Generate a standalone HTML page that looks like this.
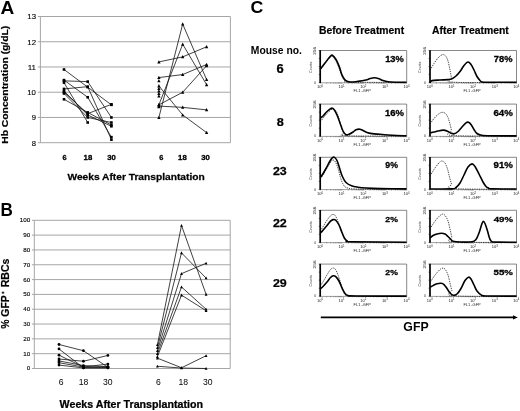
<!DOCTYPE html>
<html><head><meta charset="utf-8"><style>
html,body{margin:0;padding:0;background:#fff;overflow:hidden;width:520px;height:411px;}
svg{display:block;filter:grayscale(1);}
text{font-family:"Liberation Sans",sans-serif;}
</style></head><body>
<svg width="520" height="411" viewBox="0 0 520 411">
<rect width="520" height="411" fill="#fff"/>
<text transform="translate(0.62,13.70) scale(1.042,1)" font-size="18.33" font-weight="bold" fill="#000">A</text>
<line x1="37.8" y1="142.70" x2="230.4" y2="142.70" stroke="#a6a6a6" stroke-width="1"/>
<line x1="37.8" y1="117.46" x2="230.4" y2="117.46" stroke="#a6a6a6" stroke-width="1"/>
<line x1="37.8" y1="92.22" x2="230.4" y2="92.22" stroke="#a6a6a6" stroke-width="1"/>
<line x1="37.8" y1="66.98" x2="230.4" y2="66.98" stroke="#a6a6a6" stroke-width="1"/>
<line x1="37.8" y1="41.74" x2="230.4" y2="41.74" stroke="#a6a6a6" stroke-width="1"/>
<line x1="37.8" y1="16.50" x2="230.4" y2="16.50" stroke="#a6a6a6" stroke-width="1"/>
<line x1="40.4" y1="16.5" x2="40.4" y2="142.7" stroke="#a6a6a6" stroke-width="1"/>
<line x1="230.4" y1="16.5" x2="230.4" y2="142.7" stroke="#a6a6a6" stroke-width="1"/>
<text transform="translate(31.71,145.56) scale(0.989,1)" font-size="7.75" font-weight="normal" fill="#000" stroke="#000" stroke-width="0.12" stroke-linejoin="round">8</text>
<text transform="translate(31.74,120.32) scale(0.988,1)" font-size="7.75" font-weight="normal" fill="#000" stroke="#000" stroke-width="0.12" stroke-linejoin="round">9</text>
<text transform="translate(27.28,95.08) scale(1.006,1)" font-size="7.75" font-weight="normal" fill="#000" stroke="#000" stroke-width="0.12" stroke-linejoin="round">10</text>
<text transform="translate(27.71,69.92) scale(1.005,1)" font-size="7.97" font-weight="normal" fill="#000" stroke="#000" stroke-width="0.12" stroke-linejoin="round">11</text>
<text transform="translate(27.26,44.68) scale(1.006,1)" font-size="7.86" font-weight="normal" fill="#000" stroke="#000" stroke-width="0.12" stroke-linejoin="round">12</text>
<text transform="translate(27.32,19.36) scale(1.006,1)" font-size="7.75" font-weight="normal" fill="#000" stroke="#000" stroke-width="0.12" stroke-linejoin="round">13</text>
<text transform="translate(8.20,143.80) rotate(-90) scale(1.060,1)" font-size="9.75" font-weight="bold" fill="#000" stroke="#000" stroke-width="0.2" stroke-linejoin="round">Hb Concentration (g/dL)</text>
<text transform="translate(62.53,160.07) scale(0.974,1)" font-size="7.63" font-weight="bold" fill="#000" stroke="#000" stroke-width="0.3" stroke-linejoin="round">6</text>
<text transform="translate(83.57,160.07) scale(1.017,1)" font-size="7.63" font-weight="bold" fill="#000" stroke="#000" stroke-width="0.3" stroke-linejoin="round">18</text>
<text transform="translate(107.17,160.05) scale(1.018,1)" font-size="7.61" font-weight="bold" fill="#000" stroke="#000" stroke-width="0.3" stroke-linejoin="round">30</text>
<text transform="translate(159.23,160.07) scale(0.974,1)" font-size="7.63" font-weight="bold" fill="#000" stroke="#000" stroke-width="0.3" stroke-linejoin="round">6</text>
<text transform="translate(178.07,160.07) scale(1.017,1)" font-size="7.63" font-weight="bold" fill="#000" stroke="#000" stroke-width="0.3" stroke-linejoin="round">18</text>
<text transform="translate(201.27,160.05) scale(1.018,1)" font-size="7.61" font-weight="bold" fill="#000" stroke="#000" stroke-width="0.3" stroke-linejoin="round">30</text>
<text transform="translate(67.50,180.40) scale(1.038,1)" font-size="9.85" font-weight="bold" fill="#000" stroke="#000" stroke-width="0.25" stroke-linejoin="round">Weeks After Transplantation</text>
<polyline points="64.00,69.50 87.70,87.17 111.40,104.84" fill="none" stroke="#111" stroke-width="0.8"/>
<polyline points="64.00,80.86 87.70,81.62 111.40,117.46" fill="none" stroke="#111" stroke-width="0.8"/>
<polyline points="64.00,88.94 87.70,86.67 111.40,139.67" fill="none" stroke="#111" stroke-width="0.8"/>
<polyline points="64.00,80.10 87.70,97.27 111.40,137.15" fill="none" stroke="#111" stroke-width="0.8"/>
<polyline points="64.00,82.63 87.70,122.51" fill="none" stroke="#111" stroke-width="0.8"/>
<polyline points="64.00,92.22 87.70,113.67 111.40,104.34" fill="none" stroke="#111" stroke-width="0.8"/>
<polyline points="64.00,93.48 87.70,117.46 111.40,122.51" fill="none" stroke="#111" stroke-width="0.8"/>
<polyline points="64.00,99.29 87.70,112.41 111.40,125.03" fill="none" stroke="#111" stroke-width="0.8"/>
<polyline points="64.00,90.96 87.70,114.94 111.40,126.29" fill="none" stroke="#111" stroke-width="0.8"/>
<polyline points="158.90,61.93 182.70,56.88 206.60,46.79" fill="none" stroke="#111" stroke-width="0.8"/>
<polyline points="158.90,77.58 182.70,74.55 206.60,64.46" fill="none" stroke="#111" stroke-width="0.8"/>
<polyline points="158.90,117.46 182.70,24.07 206.60,79.60" fill="none" stroke="#111" stroke-width="0.8"/>
<polyline points="158.90,104.84 182.70,44.26 206.60,84.65" fill="none" stroke="#111" stroke-width="0.8"/>
<polyline points="158.90,85.91 182.70,114.94 206.60,132.60" fill="none" stroke="#111" stroke-width="0.8"/>
<polyline points="158.90,104.84 182.70,92.22 206.60,65.72" fill="none" stroke="#111" stroke-width="0.8"/>
<polyline points="158.90,106.10 182.70,107.36 206.60,109.89" fill="none" stroke="#111" stroke-width="0.8"/>
<rect x="62.70" y="68.20" width="2.6" height="2.6" fill="#000"/>
<rect x="86.40" y="85.87" width="2.6" height="2.6" fill="#000"/>
<rect x="110.10" y="103.54" width="2.6" height="2.6" fill="#000"/>
<rect x="62.70" y="79.56" width="2.6" height="2.6" fill="#000"/>
<rect x="86.40" y="80.32" width="2.6" height="2.6" fill="#000"/>
<rect x="110.10" y="116.16" width="2.6" height="2.6" fill="#000"/>
<rect x="62.70" y="87.64" width="2.6" height="2.6" fill="#000"/>
<rect x="86.40" y="85.37" width="2.6" height="2.6" fill="#000"/>
<rect x="110.10" y="138.37" width="2.6" height="2.6" fill="#000"/>
<rect x="62.70" y="78.80" width="2.6" height="2.6" fill="#000"/>
<rect x="86.40" y="95.97" width="2.6" height="2.6" fill="#000"/>
<rect x="110.10" y="135.85" width="2.6" height="2.6" fill="#000"/>
<rect x="62.70" y="81.33" width="2.6" height="2.6" fill="#000"/>
<rect x="86.40" y="121.21" width="2.6" height="2.6" fill="#000"/>
<rect x="62.70" y="90.92" width="2.6" height="2.6" fill="#000"/>
<rect x="86.40" y="112.37" width="2.6" height="2.6" fill="#000"/>
<rect x="110.10" y="103.04" width="2.6" height="2.6" fill="#000"/>
<rect x="62.70" y="92.18" width="2.6" height="2.6" fill="#000"/>
<rect x="86.40" y="116.16" width="2.6" height="2.6" fill="#000"/>
<rect x="110.10" y="121.21" width="2.6" height="2.6" fill="#000"/>
<rect x="62.70" y="97.99" width="2.6" height="2.6" fill="#000"/>
<rect x="86.40" y="111.11" width="2.6" height="2.6" fill="#000"/>
<rect x="110.10" y="123.73" width="2.6" height="2.6" fill="#000"/>
<rect x="62.70" y="89.66" width="2.6" height="2.6" fill="#000"/>
<rect x="86.40" y="113.64" width="2.6" height="2.6" fill="#000"/>
<rect x="110.10" y="124.99" width="2.6" height="2.6" fill="#000"/>
<polygon points="158.90,60.15 157.25,63.42 160.55,63.42" fill="#000"/>
<polygon points="182.70,55.10 181.05,58.37 184.35,58.37" fill="#000"/>
<polygon points="206.60,45.00 204.95,48.27 208.25,48.27" fill="#000"/>
<polygon points="158.90,75.80 157.25,79.07 160.55,79.07" fill="#000"/>
<polygon points="182.70,72.77 181.05,76.04 184.35,76.04" fill="#000"/>
<polygon points="206.60,62.67 204.95,65.94 208.25,65.94" fill="#000"/>
<polygon points="158.90,115.67 157.25,118.94 160.55,118.94" fill="#000"/>
<polygon points="182.70,22.29 181.05,25.56 184.35,25.56" fill="#000"/>
<polygon points="206.60,77.81 204.95,81.08 208.25,81.08" fill="#000"/>
<polygon points="158.90,103.05 157.25,106.32 160.55,106.32" fill="#000"/>
<polygon points="182.70,42.48 181.05,45.75 184.35,45.75" fill="#000"/>
<polygon points="206.60,82.86 204.95,86.13 208.25,86.13" fill="#000"/>
<polygon points="158.90,84.12 157.25,87.39 160.55,87.39" fill="#000"/>
<polygon points="182.70,113.15 181.05,116.42 184.35,116.42" fill="#000"/>
<polygon points="206.60,130.82 204.95,134.09 208.25,134.09" fill="#000"/>
<polygon points="158.90,103.05 157.25,106.32 160.55,106.32" fill="#000"/>
<polygon points="182.70,90.44 181.05,93.70 184.35,93.70" fill="#000"/>
<polygon points="206.60,63.93 204.95,67.20 208.25,67.20" fill="#000"/>
<polygon points="158.90,104.32 157.25,107.59 160.55,107.59" fill="#000"/>
<polygon points="182.70,105.58 181.05,108.85 184.35,108.85" fill="#000"/>
<polygon points="206.60,108.10 204.95,111.37 208.25,111.37" fill="#000"/>
<polygon points="158.90,79.08 157.25,82.35 160.55,82.35" fill="#000"/>
<polygon points="158.90,86.65 157.25,89.92 160.55,89.92" fill="#000"/>
<polygon points="158.90,89.17 157.25,92.44 160.55,92.44" fill="#000"/>
<polygon points="158.90,91.70 157.25,94.97 160.55,94.97" fill="#000"/>
<polygon points="158.90,94.22 157.25,97.49 160.55,97.49" fill="#000"/>
<polygon points="158.90,105.07 157.25,108.34 160.55,108.34" fill="#000"/>
<text transform="translate(0.45,215.60) scale(0.945,1)" font-size="18.04" font-weight="bold" fill="#000">B</text>
<line x1="31.9" y1="368.50" x2="230.2" y2="368.50" stroke="#a6a6a6" stroke-width="1"/>
<line x1="31.9" y1="353.68" x2="230.2" y2="353.68" stroke="#a6a6a6" stroke-width="1"/>
<line x1="31.9" y1="338.86" x2="230.2" y2="338.86" stroke="#a6a6a6" stroke-width="1"/>
<line x1="31.9" y1="324.04" x2="230.2" y2="324.04" stroke="#a6a6a6" stroke-width="1"/>
<line x1="31.9" y1="309.22" x2="230.2" y2="309.22" stroke="#a6a6a6" stroke-width="1"/>
<line x1="31.9" y1="294.40" x2="230.2" y2="294.40" stroke="#a6a6a6" stroke-width="1"/>
<line x1="31.9" y1="279.58" x2="230.2" y2="279.58" stroke="#a6a6a6" stroke-width="1"/>
<line x1="31.9" y1="264.76" x2="230.2" y2="264.76" stroke="#a6a6a6" stroke-width="1"/>
<line x1="31.9" y1="249.94" x2="230.2" y2="249.94" stroke="#a6a6a6" stroke-width="1"/>
<line x1="31.9" y1="235.12" x2="230.2" y2="235.12" stroke="#a6a6a6" stroke-width="1"/>
<line x1="31.9" y1="220.30" x2="230.2" y2="220.30" stroke="#a6a6a6" stroke-width="1"/>
<line x1="34.3" y1="220.3" x2="34.3" y2="368.5" stroke="#a6a6a6" stroke-width="1"/>
<line x1="230.2" y1="220.3" x2="230.2" y2="368.5" stroke="#a6a6a6" stroke-width="1"/>
<text transform="translate(26.87,370.43) scale(1.088,1)" font-size="5.63" font-weight="normal" fill="#000" stroke="#000" stroke-width="0.12" stroke-linejoin="round">0</text>
<text transform="translate(23.33,355.61) scale(1.112,1)" font-size="5.63" font-weight="normal" fill="#000" stroke="#000" stroke-width="0.12" stroke-linejoin="round">10</text>
<text transform="translate(23.33,340.79) scale(1.112,1)" font-size="5.63" font-weight="normal" fill="#000" stroke="#000" stroke-width="0.12" stroke-linejoin="round">20</text>
<text transform="translate(23.33,325.97) scale(1.113,1)" font-size="5.63" font-weight="normal" fill="#000" stroke="#000" stroke-width="0.12" stroke-linejoin="round">30</text>
<text transform="translate(23.33,311.15) scale(1.113,1)" font-size="5.63" font-weight="normal" fill="#000" stroke="#000" stroke-width="0.12" stroke-linejoin="round">40</text>
<text transform="translate(23.33,296.33) scale(1.113,1)" font-size="5.63" font-weight="normal" fill="#000" stroke="#000" stroke-width="0.12" stroke-linejoin="round">50</text>
<text transform="translate(23.33,281.51) scale(1.112,1)" font-size="5.63" font-weight="normal" fill="#000" stroke="#000" stroke-width="0.12" stroke-linejoin="round">60</text>
<text transform="translate(23.33,266.69) scale(1.112,1)" font-size="5.63" font-weight="normal" fill="#000" stroke="#000" stroke-width="0.12" stroke-linejoin="round">70</text>
<text transform="translate(23.33,251.87) scale(1.112,1)" font-size="5.63" font-weight="normal" fill="#000" stroke="#000" stroke-width="0.12" stroke-linejoin="round">80</text>
<text transform="translate(23.33,237.05) scale(1.112,1)" font-size="5.63" font-weight="normal" fill="#000" stroke="#000" stroke-width="0.12" stroke-linejoin="round">90</text>
<text transform="translate(19.78,222.23) scale(1.119,1)" font-size="5.63" font-weight="normal" fill="#000" stroke="#000" stroke-width="0.12" stroke-linejoin="round">100</text>
<text transform="translate(8.80,328.86) rotate(-90) scale(1.010,1)" font-size="10.33" font-weight="bold" fill="#000" stroke="#000" stroke-width="0.2" stroke-linejoin="round">% GFP</text>
<text transform="translate(8.80,287.31) rotate(-90) scale(1.022,1)" font-size="10.33" font-weight="bold" fill="#000" stroke="#000" stroke-width="0.2" stroke-linejoin="round">RBCs</text>
<path d="M1.7,292.7 H4.3 M3.0,291.4 V294.0" stroke="#000" stroke-width="0.9"/>
<text transform="translate(58.68,384.61) scale(1.000,1)" font-size="8.62" font-weight="normal" fill="#000">6</text>
<text transform="translate(78.77,384.61) scale(1.000,1)" font-size="8.62" font-weight="normal" fill="#000">18</text>
<text transform="translate(102.91,384.61) scale(1.000,1)" font-size="8.62" font-weight="normal" fill="#000">30</text>
<text transform="translate(155.88,384.61) scale(1.000,1)" font-size="8.62" font-weight="normal" fill="#000">6</text>
<text transform="translate(178.47,384.61) scale(1.000,1)" font-size="8.62" font-weight="normal" fill="#000">18</text>
<text transform="translate(202.91,384.61) scale(1.000,1)" font-size="8.62" font-weight="normal" fill="#000">30</text>
<text transform="translate(59.60,407.70) scale(1.037,1)" font-size="10.29" font-weight="bold" fill="#000" stroke="#000" stroke-width="0.25" stroke-linejoin="round">Weeks After Transplantation</text>
<polyline points="59.00,344.49 83.40,350.72 107.90,367.31" fill="none" stroke="#111" stroke-width="0.8"/>
<polyline points="59.00,348.94 83.40,367.76 107.90,367.76" fill="none" stroke="#111" stroke-width="0.8"/>
<polyline points="59.00,355.16 83.40,367.02 107.90,364.05" fill="none" stroke="#111" stroke-width="0.8"/>
<polyline points="59.00,359.02 83.40,361.24 107.90,355.46" fill="none" stroke="#111" stroke-width="0.8"/>
<polyline points="59.00,360.94 83.40,365.54 107.90,366.72" fill="none" stroke="#111" stroke-width="0.8"/>
<polyline points="59.00,362.72 83.40,367.02 107.90,367.02" fill="none" stroke="#111" stroke-width="0.8"/>
<polyline points="59.00,365.09 83.40,367.91 107.90,367.91" fill="none" stroke="#111" stroke-width="0.8"/>
<polyline points="157.40,344.79 181.50,225.49 206.10,294.40" fill="none" stroke="#111" stroke-width="0.8"/>
<polyline points="157.40,347.75 181.50,252.90 206.10,278.10" fill="none" stroke="#111" stroke-width="0.8"/>
<polyline points="157.40,350.72 181.50,273.65 206.10,263.28" fill="none" stroke="#111" stroke-width="0.8"/>
<polyline points="157.40,353.68 181.50,286.99 206.10,309.22" fill="none" stroke="#111" stroke-width="0.8"/>
<polyline points="157.40,356.64 181.50,295.14 206.10,310.70" fill="none" stroke="#111" stroke-width="0.8"/>
<polyline points="157.40,358.13 181.50,367.76 206.10,355.75" fill="none" stroke="#111" stroke-width="0.8"/>
<polyline points="157.40,366.28 181.50,368.06 206.10,368.50" fill="none" stroke="#111" stroke-width="0.8"/>
<circle cx="59.00" cy="344.49" r="1.4" fill="#000"/>
<circle cx="83.40" cy="350.72" r="1.4" fill="#000"/>
<circle cx="107.90" cy="367.31" r="1.4" fill="#000"/>
<circle cx="59.00" cy="348.94" r="1.4" fill="#000"/>
<circle cx="83.40" cy="367.76" r="1.4" fill="#000"/>
<circle cx="107.90" cy="367.76" r="1.4" fill="#000"/>
<circle cx="59.00" cy="355.16" r="1.4" fill="#000"/>
<circle cx="83.40" cy="367.02" r="1.4" fill="#000"/>
<circle cx="107.90" cy="364.05" r="1.4" fill="#000"/>
<circle cx="59.00" cy="359.02" r="1.4" fill="#000"/>
<circle cx="83.40" cy="361.24" r="1.4" fill="#000"/>
<circle cx="107.90" cy="355.46" r="1.4" fill="#000"/>
<circle cx="59.00" cy="360.94" r="1.4" fill="#000"/>
<circle cx="83.40" cy="365.54" r="1.4" fill="#000"/>
<circle cx="107.90" cy="366.72" r="1.4" fill="#000"/>
<circle cx="59.00" cy="362.72" r="1.4" fill="#000"/>
<circle cx="83.40" cy="367.02" r="1.4" fill="#000"/>
<circle cx="107.90" cy="367.02" r="1.4" fill="#000"/>
<circle cx="59.00" cy="365.09" r="1.4" fill="#000"/>
<circle cx="83.40" cy="367.91" r="1.4" fill="#000"/>
<circle cx="107.90" cy="367.91" r="1.4" fill="#000"/>
<polygon points="157.40,343.23 156.00,346.05 158.80,346.05" fill="#000"/>
<polygon points="181.50,223.93 180.10,226.75 182.90,226.75" fill="#000"/>
<polygon points="206.10,292.84 204.70,295.66 207.50,295.66" fill="#000"/>
<polygon points="157.40,346.19 156.00,349.01 158.80,349.01" fill="#000"/>
<polygon points="181.50,251.34 180.10,254.16 182.90,254.16" fill="#000"/>
<polygon points="206.10,276.54 204.70,279.36 207.50,279.36" fill="#000"/>
<polygon points="157.40,349.16 156.00,351.98 158.80,351.98" fill="#000"/>
<polygon points="181.50,272.09 180.10,274.91 182.90,274.91" fill="#000"/>
<polygon points="206.10,261.72 204.70,264.54 207.50,264.54" fill="#000"/>
<polygon points="157.40,352.12 156.00,354.94 158.80,354.94" fill="#000"/>
<polygon points="181.50,285.43 180.10,288.25 182.90,288.25" fill="#000"/>
<polygon points="206.10,307.66 204.70,310.48 207.50,310.48" fill="#000"/>
<polygon points="157.40,355.08 156.00,357.90 158.80,357.90" fill="#000"/>
<polygon points="181.50,293.58 180.10,296.40 182.90,296.40" fill="#000"/>
<polygon points="206.10,309.14 204.70,311.96 207.50,311.96" fill="#000"/>
<polygon points="157.40,356.57 156.00,359.39 158.80,359.39" fill="#000"/>
<polygon points="181.50,366.20 180.10,369.02 182.90,369.02" fill="#000"/>
<polygon points="206.10,354.19 204.70,357.01 207.50,357.01" fill="#000"/>
<polygon points="157.40,364.72 156.00,367.54 158.80,367.54" fill="#000"/>
<polygon points="181.50,366.50 180.10,369.32 182.90,369.32" fill="#000"/>
<polygon points="206.10,366.94 204.70,369.76 207.50,369.76" fill="#000"/>
<text transform="translate(250.59,13.33) scale(1.027,1)" font-size="17.24" font-weight="bold" fill="#000">C</text>
<text transform="translate(318.90,34.40) scale(0.976,1)" font-size="10.62" font-weight="bold" fill="#000" stroke="#000" stroke-width="0.2" stroke-linejoin="round">Before Treatment</text>
<text transform="translate(432.04,34.40) scale(0.979,1)" font-size="10.62" font-weight="bold" fill="#000" stroke="#000" stroke-width="0.2" stroke-linejoin="round">After Treatment</text>
<text transform="translate(250.80,53.70) scale(1.017,1)" font-size="10.18" font-weight="bold" fill="#000">Mouse no.</text>
<text transform="translate(276.54,73.36) scale(1.085,1)" font-size="11.94" font-weight="bold" fill="#000" stroke="#000" stroke-width="0.25" stroke-linejoin="round">6</text>
<text transform="translate(276.71,126.16) scale(1.129,1)" font-size="11.24" font-weight="bold" fill="#000" stroke="#000" stroke-width="0.25" stroke-linejoin="round">8</text>
<text transform="translate(272.89,174.74) scale(1.126,1)" font-size="11.06" font-weight="bold" fill="#000" stroke="#000" stroke-width="0.25" stroke-linejoin="round">23</text>
<text transform="translate(272.89,226.97) scale(1.084,1)" font-size="11.54" font-weight="bold" fill="#000" stroke="#000" stroke-width="0.25" stroke-linejoin="round">22</text>
<text transform="translate(272.89,286.56) scale(1.094,1)" font-size="11.38" font-weight="bold" fill="#000" stroke="#000" stroke-width="0.25" stroke-linejoin="round">29</text>
<path d="M320.2,50.50 H406.70 V82.60" fill="none" stroke="#555" stroke-width="0.7"/>
<line x1="320.2" y1="82.80" x2="406.70" y2="82.80" stroke="#777" stroke-width="0.7"/>
<line x1="320.20" y1="82.60" x2="320.20" y2="83.70" stroke="#444" stroke-width="0.45"/>
<line x1="326.71" y1="82.60" x2="326.71" y2="83.70" stroke="#444" stroke-width="0.45"/>
<line x1="330.52" y1="82.60" x2="330.52" y2="83.70" stroke="#444" stroke-width="0.45"/>
<line x1="333.22" y1="82.60" x2="333.22" y2="83.70" stroke="#444" stroke-width="0.45"/>
<line x1="335.32" y1="82.60" x2="335.32" y2="83.70" stroke="#444" stroke-width="0.45"/>
<line x1="337.03" y1="82.60" x2="337.03" y2="83.70" stroke="#444" stroke-width="0.45"/>
<line x1="338.48" y1="82.60" x2="338.48" y2="83.70" stroke="#444" stroke-width="0.45"/>
<line x1="339.73" y1="82.60" x2="339.73" y2="83.70" stroke="#444" stroke-width="0.45"/>
<line x1="340.84" y1="82.60" x2="340.84" y2="83.70" stroke="#444" stroke-width="0.45"/>
<line x1="341.82" y1="82.60" x2="341.82" y2="83.70" stroke="#444" stroke-width="0.45"/>
<line x1="348.33" y1="82.60" x2="348.33" y2="83.70" stroke="#444" stroke-width="0.45"/>
<line x1="352.14" y1="82.60" x2="352.14" y2="83.70" stroke="#444" stroke-width="0.45"/>
<line x1="354.84" y1="82.60" x2="354.84" y2="83.70" stroke="#444" stroke-width="0.45"/>
<line x1="356.94" y1="82.60" x2="356.94" y2="83.70" stroke="#444" stroke-width="0.45"/>
<line x1="358.65" y1="82.60" x2="358.65" y2="83.70" stroke="#444" stroke-width="0.45"/>
<line x1="360.10" y1="82.60" x2="360.10" y2="83.70" stroke="#444" stroke-width="0.45"/>
<line x1="361.35" y1="82.60" x2="361.35" y2="83.70" stroke="#444" stroke-width="0.45"/>
<line x1="362.46" y1="82.60" x2="362.46" y2="83.70" stroke="#444" stroke-width="0.45"/>
<line x1="363.45" y1="82.60" x2="363.45" y2="83.70" stroke="#444" stroke-width="0.45"/>
<line x1="369.96" y1="82.60" x2="369.96" y2="83.70" stroke="#444" stroke-width="0.45"/>
<line x1="373.77" y1="82.60" x2="373.77" y2="83.70" stroke="#444" stroke-width="0.45"/>
<line x1="376.47" y1="82.60" x2="376.47" y2="83.70" stroke="#444" stroke-width="0.45"/>
<line x1="378.57" y1="82.60" x2="378.57" y2="83.70" stroke="#444" stroke-width="0.45"/>
<line x1="380.28" y1="82.60" x2="380.28" y2="83.70" stroke="#444" stroke-width="0.45"/>
<line x1="381.73" y1="82.60" x2="381.73" y2="83.70" stroke="#444" stroke-width="0.45"/>
<line x1="382.98" y1="82.60" x2="382.98" y2="83.70" stroke="#444" stroke-width="0.45"/>
<line x1="384.09" y1="82.60" x2="384.09" y2="83.70" stroke="#444" stroke-width="0.45"/>
<line x1="385.07" y1="82.60" x2="385.07" y2="83.70" stroke="#444" stroke-width="0.45"/>
<line x1="391.58" y1="82.60" x2="391.58" y2="83.70" stroke="#444" stroke-width="0.45"/>
<line x1="395.39" y1="82.60" x2="395.39" y2="83.70" stroke="#444" stroke-width="0.45"/>
<line x1="398.09" y1="82.60" x2="398.09" y2="83.70" stroke="#444" stroke-width="0.45"/>
<line x1="400.19" y1="82.60" x2="400.19" y2="83.70" stroke="#444" stroke-width="0.45"/>
<line x1="401.90" y1="82.60" x2="401.90" y2="83.70" stroke="#444" stroke-width="0.45"/>
<line x1="403.35" y1="82.60" x2="403.35" y2="83.70" stroke="#444" stroke-width="0.45"/>
<line x1="404.60" y1="82.60" x2="404.60" y2="83.70" stroke="#444" stroke-width="0.45"/>
<line x1="405.71" y1="82.60" x2="405.71" y2="83.70" stroke="#444" stroke-width="0.45"/>
<line x1="406.70" y1="82.60" x2="406.70" y2="83.70" stroke="#444" stroke-width="0.45"/>
<line x1="318.60" y1="50.50" x2="320.20" y2="50.50" stroke="#333" stroke-width="0.5"/>
<line x1="318.60" y1="58.52" x2="320.20" y2="58.52" stroke="#333" stroke-width="0.5"/>
<line x1="318.60" y1="66.55" x2="320.20" y2="66.55" stroke="#333" stroke-width="0.5"/>
<line x1="318.60" y1="74.58" x2="320.20" y2="74.58" stroke="#333" stroke-width="0.5"/>
<line x1="318.60" y1="82.60" x2="320.20" y2="82.60" stroke="#333" stroke-width="0.5"/>
<text transform="translate(315.80,54.80) rotate(-90)" font-size="4.4" fill="#222" textLength="8" lengthAdjust="spacingAndGlyphs">256</text>
<text transform="translate(311.60,72.90) rotate(-90)" font-size="3.6" fill="#333" textLength="11.3" lengthAdjust="spacingAndGlyphs">Counts</text>
<text x="314.20" y="83.80" font-size="3.4" fill="#222">0</text>
<text x="317.00" y="88.40" font-size="4" fill="#222">10<tspan font-size="2.8" dy="-1.7">0</tspan></text>
<text x="338.62" y="88.40" font-size="4" fill="#222">10<tspan font-size="2.8" dy="-1.7">1</tspan></text>
<text x="360.25" y="88.40" font-size="4" fill="#222">10<tspan font-size="2.8" dy="-1.7">2</tspan></text>
<text x="381.88" y="88.40" font-size="4" fill="#222">10<tspan font-size="2.8" dy="-1.7">3</tspan></text>
<text x="403.50" y="88.40" font-size="4" fill="#222">10<tspan font-size="2.8" dy="-1.7">4</tspan></text>
<text x="353.60" y="92.40" font-size="4" fill="#222" textLength="17.3" lengthAdjust="spacingAndGlyphs">FL1 -GFP</text>
<path d="M320.20,70.50 C321.00,69.33 323.37,65.67 325.00,63.50 C326.63,61.33 328.77,58.67 330.00,57.50 C331.23,56.33 331.40,55.92 332.40,56.50 C333.40,57.08 334.90,59.08 336.00,61.00 C337.10,62.92 338.00,65.42 339.00,68.00 C340.00,70.58 341.00,74.33 342.00,76.50 C343.00,78.67 343.67,80.05 345.00,81.00 C346.33,81.95 339.75,81.97 350.00,82.20 C360.25,82.43 397.08,82.37 406.50,82.40" fill="none" stroke="#333" stroke-width="0.9" stroke-dasharray="1.3,1.0"/>
<path d="M320.20,69.20 C320.58,68.72 321.67,67.37 322.50,66.30 C323.33,65.23 323.97,64.38 325.20,62.80 C326.43,61.22 328.70,58.07 329.90,56.80 C331.10,55.53 331.33,54.67 332.40,55.20 C333.47,55.73 335.12,57.97 336.30,60.00 C337.48,62.03 338.50,64.78 339.50,67.40 C340.50,70.02 341.30,73.55 342.30,75.70 C343.30,77.85 344.18,79.25 345.50,80.30 C346.82,81.35 348.12,81.82 350.20,82.00 C352.28,82.18 355.37,81.73 358.00,81.40 C360.63,81.07 364.00,80.47 366.00,80.00 C368.00,79.53 368.58,78.97 370.00,78.60 C371.42,78.23 373.00,77.77 374.50,77.80 C376.00,77.83 377.58,78.33 379.00,78.80 C380.42,79.27 381.50,80.10 383.00,80.60 C384.50,81.10 385.83,81.53 388.00,81.80 C390.17,82.07 392.92,82.12 396.00,82.20 C399.08,82.28 404.75,82.28 406.50,82.30" fill="none" stroke="#000" stroke-width="1.6" stroke-linejoin="round"/>
<line x1="320.20" y1="50.20" x2="320.20" y2="83.00" stroke="#000" stroke-width="1.7"/>
<path d="M430.0,50.50 H516.50 V82.60" fill="none" stroke="#555" stroke-width="0.7"/>
<line x1="430.0" y1="82.80" x2="516.50" y2="82.80" stroke="#777" stroke-width="0.7"/>
<line x1="430.00" y1="82.60" x2="430.00" y2="83.70" stroke="#444" stroke-width="0.45"/>
<line x1="436.51" y1="82.60" x2="436.51" y2="83.70" stroke="#444" stroke-width="0.45"/>
<line x1="440.32" y1="82.60" x2="440.32" y2="83.70" stroke="#444" stroke-width="0.45"/>
<line x1="443.02" y1="82.60" x2="443.02" y2="83.70" stroke="#444" stroke-width="0.45"/>
<line x1="445.12" y1="82.60" x2="445.12" y2="83.70" stroke="#444" stroke-width="0.45"/>
<line x1="446.83" y1="82.60" x2="446.83" y2="83.70" stroke="#444" stroke-width="0.45"/>
<line x1="448.28" y1="82.60" x2="448.28" y2="83.70" stroke="#444" stroke-width="0.45"/>
<line x1="449.53" y1="82.60" x2="449.53" y2="83.70" stroke="#444" stroke-width="0.45"/>
<line x1="450.64" y1="82.60" x2="450.64" y2="83.70" stroke="#444" stroke-width="0.45"/>
<line x1="451.62" y1="82.60" x2="451.62" y2="83.70" stroke="#444" stroke-width="0.45"/>
<line x1="458.13" y1="82.60" x2="458.13" y2="83.70" stroke="#444" stroke-width="0.45"/>
<line x1="461.94" y1="82.60" x2="461.94" y2="83.70" stroke="#444" stroke-width="0.45"/>
<line x1="464.64" y1="82.60" x2="464.64" y2="83.70" stroke="#444" stroke-width="0.45"/>
<line x1="466.74" y1="82.60" x2="466.74" y2="83.70" stroke="#444" stroke-width="0.45"/>
<line x1="468.45" y1="82.60" x2="468.45" y2="83.70" stroke="#444" stroke-width="0.45"/>
<line x1="469.90" y1="82.60" x2="469.90" y2="83.70" stroke="#444" stroke-width="0.45"/>
<line x1="471.15" y1="82.60" x2="471.15" y2="83.70" stroke="#444" stroke-width="0.45"/>
<line x1="472.26" y1="82.60" x2="472.26" y2="83.70" stroke="#444" stroke-width="0.45"/>
<line x1="473.25" y1="82.60" x2="473.25" y2="83.70" stroke="#444" stroke-width="0.45"/>
<line x1="479.76" y1="82.60" x2="479.76" y2="83.70" stroke="#444" stroke-width="0.45"/>
<line x1="483.57" y1="82.60" x2="483.57" y2="83.70" stroke="#444" stroke-width="0.45"/>
<line x1="486.27" y1="82.60" x2="486.27" y2="83.70" stroke="#444" stroke-width="0.45"/>
<line x1="488.37" y1="82.60" x2="488.37" y2="83.70" stroke="#444" stroke-width="0.45"/>
<line x1="490.08" y1="82.60" x2="490.08" y2="83.70" stroke="#444" stroke-width="0.45"/>
<line x1="491.53" y1="82.60" x2="491.53" y2="83.70" stroke="#444" stroke-width="0.45"/>
<line x1="492.78" y1="82.60" x2="492.78" y2="83.70" stroke="#444" stroke-width="0.45"/>
<line x1="493.89" y1="82.60" x2="493.89" y2="83.70" stroke="#444" stroke-width="0.45"/>
<line x1="494.88" y1="82.60" x2="494.88" y2="83.70" stroke="#444" stroke-width="0.45"/>
<line x1="501.38" y1="82.60" x2="501.38" y2="83.70" stroke="#444" stroke-width="0.45"/>
<line x1="505.19" y1="82.60" x2="505.19" y2="83.70" stroke="#444" stroke-width="0.45"/>
<line x1="507.89" y1="82.60" x2="507.89" y2="83.70" stroke="#444" stroke-width="0.45"/>
<line x1="509.99" y1="82.60" x2="509.99" y2="83.70" stroke="#444" stroke-width="0.45"/>
<line x1="511.70" y1="82.60" x2="511.70" y2="83.70" stroke="#444" stroke-width="0.45"/>
<line x1="513.15" y1="82.60" x2="513.15" y2="83.70" stroke="#444" stroke-width="0.45"/>
<line x1="514.40" y1="82.60" x2="514.40" y2="83.70" stroke="#444" stroke-width="0.45"/>
<line x1="515.51" y1="82.60" x2="515.51" y2="83.70" stroke="#444" stroke-width="0.45"/>
<line x1="516.50" y1="82.60" x2="516.50" y2="83.70" stroke="#444" stroke-width="0.45"/>
<line x1="428.40" y1="50.50" x2="430.00" y2="50.50" stroke="#333" stroke-width="0.5"/>
<line x1="428.40" y1="58.52" x2="430.00" y2="58.52" stroke="#333" stroke-width="0.5"/>
<line x1="428.40" y1="66.55" x2="430.00" y2="66.55" stroke="#333" stroke-width="0.5"/>
<line x1="428.40" y1="74.58" x2="430.00" y2="74.58" stroke="#333" stroke-width="0.5"/>
<line x1="428.40" y1="82.60" x2="430.00" y2="82.60" stroke="#333" stroke-width="0.5"/>
<text transform="translate(425.60,54.80) rotate(-90)" font-size="4.4" fill="#222" textLength="8" lengthAdjust="spacingAndGlyphs">256</text>
<text transform="translate(421.40,72.90) rotate(-90)" font-size="3.6" fill="#333" textLength="11.3" lengthAdjust="spacingAndGlyphs">Counts</text>
<text x="424.00" y="83.80" font-size="3.4" fill="#222">0</text>
<text x="426.80" y="88.40" font-size="4" fill="#222">10<tspan font-size="2.8" dy="-1.7">0</tspan></text>
<text x="448.43" y="88.40" font-size="4" fill="#222">10<tspan font-size="2.8" dy="-1.7">1</tspan></text>
<text x="470.05" y="88.40" font-size="4" fill="#222">10<tspan font-size="2.8" dy="-1.7">2</tspan></text>
<text x="491.68" y="88.40" font-size="4" fill="#222">10<tspan font-size="2.8" dy="-1.7">3</tspan></text>
<text x="513.30" y="88.40" font-size="4" fill="#222">10<tspan font-size="2.8" dy="-1.7">4</tspan></text>
<text x="463.40" y="92.40" font-size="4" fill="#222" textLength="17.3" lengthAdjust="spacingAndGlyphs">FL1 -GFP</text>
<path d="M430.20,70.00 C430.83,68.92 432.70,65.50 434.00,63.50 C435.30,61.50 436.83,59.37 438.00,58.00 C439.17,56.63 440.08,55.87 441.00,55.30 C441.92,54.73 442.67,54.40 443.50,54.60 C444.33,54.80 445.25,55.43 446.00,56.50 C446.75,57.57 447.33,58.75 448.00,61.00 C448.67,63.25 449.42,67.17 450.00,70.00 C450.58,72.83 451.00,75.97 451.50,78.00 C452.00,80.03 442.17,81.47 453.00,82.20 C463.83,82.93 505.92,82.37 516.50,82.40" fill="none" stroke="#333" stroke-width="0.9" stroke-dasharray="1.3,1.0"/>
<path d="M430.20,82.30 C430.50,82.02 430.37,80.98 432.00,80.60 C433.63,80.22 437.33,80.17 440.00,80.00 C442.67,79.83 446.00,79.80 448.00,79.60 C450.00,79.40 450.67,79.40 452.00,78.80 C453.33,78.20 454.67,77.22 456.00,76.00 C457.33,74.78 458.67,73.25 460.00,71.50 C461.33,69.75 462.67,67.08 464.00,65.50 C465.33,63.92 466.83,62.17 468.00,62.00 C469.17,61.83 470.00,63.17 471.00,64.50 C472.00,65.83 473.00,68.00 474.00,70.00 C475.00,72.00 476.00,74.75 477.00,76.50 C478.00,78.25 479.17,79.58 480.00,80.50 C480.83,81.42 480.33,81.70 482.00,82.00 C483.67,82.30 484.25,82.25 490.00,82.30 C495.75,82.35 512.08,82.30 516.50,82.30" fill="none" stroke="#000" stroke-width="1.6" stroke-linejoin="round"/>
<line x1="430.00" y1="50.20" x2="430.00" y2="83.00" stroke="#000" stroke-width="1.7"/>
<path d="M320.2,104.10 H406.70 V136.20" fill="none" stroke="#555" stroke-width="0.7"/>
<line x1="320.2" y1="136.40" x2="406.70" y2="136.40" stroke="#777" stroke-width="0.7"/>
<line x1="320.20" y1="136.20" x2="320.20" y2="137.30" stroke="#444" stroke-width="0.45"/>
<line x1="326.71" y1="136.20" x2="326.71" y2="137.30" stroke="#444" stroke-width="0.45"/>
<line x1="330.52" y1="136.20" x2="330.52" y2="137.30" stroke="#444" stroke-width="0.45"/>
<line x1="333.22" y1="136.20" x2="333.22" y2="137.30" stroke="#444" stroke-width="0.45"/>
<line x1="335.32" y1="136.20" x2="335.32" y2="137.30" stroke="#444" stroke-width="0.45"/>
<line x1="337.03" y1="136.20" x2="337.03" y2="137.30" stroke="#444" stroke-width="0.45"/>
<line x1="338.48" y1="136.20" x2="338.48" y2="137.30" stroke="#444" stroke-width="0.45"/>
<line x1="339.73" y1="136.20" x2="339.73" y2="137.30" stroke="#444" stroke-width="0.45"/>
<line x1="340.84" y1="136.20" x2="340.84" y2="137.30" stroke="#444" stroke-width="0.45"/>
<line x1="341.82" y1="136.20" x2="341.82" y2="137.30" stroke="#444" stroke-width="0.45"/>
<line x1="348.33" y1="136.20" x2="348.33" y2="137.30" stroke="#444" stroke-width="0.45"/>
<line x1="352.14" y1="136.20" x2="352.14" y2="137.30" stroke="#444" stroke-width="0.45"/>
<line x1="354.84" y1="136.20" x2="354.84" y2="137.30" stroke="#444" stroke-width="0.45"/>
<line x1="356.94" y1="136.20" x2="356.94" y2="137.30" stroke="#444" stroke-width="0.45"/>
<line x1="358.65" y1="136.20" x2="358.65" y2="137.30" stroke="#444" stroke-width="0.45"/>
<line x1="360.10" y1="136.20" x2="360.10" y2="137.30" stroke="#444" stroke-width="0.45"/>
<line x1="361.35" y1="136.20" x2="361.35" y2="137.30" stroke="#444" stroke-width="0.45"/>
<line x1="362.46" y1="136.20" x2="362.46" y2="137.30" stroke="#444" stroke-width="0.45"/>
<line x1="363.45" y1="136.20" x2="363.45" y2="137.30" stroke="#444" stroke-width="0.45"/>
<line x1="369.96" y1="136.20" x2="369.96" y2="137.30" stroke="#444" stroke-width="0.45"/>
<line x1="373.77" y1="136.20" x2="373.77" y2="137.30" stroke="#444" stroke-width="0.45"/>
<line x1="376.47" y1="136.20" x2="376.47" y2="137.30" stroke="#444" stroke-width="0.45"/>
<line x1="378.57" y1="136.20" x2="378.57" y2="137.30" stroke="#444" stroke-width="0.45"/>
<line x1="380.28" y1="136.20" x2="380.28" y2="137.30" stroke="#444" stroke-width="0.45"/>
<line x1="381.73" y1="136.20" x2="381.73" y2="137.30" stroke="#444" stroke-width="0.45"/>
<line x1="382.98" y1="136.20" x2="382.98" y2="137.30" stroke="#444" stroke-width="0.45"/>
<line x1="384.09" y1="136.20" x2="384.09" y2="137.30" stroke="#444" stroke-width="0.45"/>
<line x1="385.07" y1="136.20" x2="385.07" y2="137.30" stroke="#444" stroke-width="0.45"/>
<line x1="391.58" y1="136.20" x2="391.58" y2="137.30" stroke="#444" stroke-width="0.45"/>
<line x1="395.39" y1="136.20" x2="395.39" y2="137.30" stroke="#444" stroke-width="0.45"/>
<line x1="398.09" y1="136.20" x2="398.09" y2="137.30" stroke="#444" stroke-width="0.45"/>
<line x1="400.19" y1="136.20" x2="400.19" y2="137.30" stroke="#444" stroke-width="0.45"/>
<line x1="401.90" y1="136.20" x2="401.90" y2="137.30" stroke="#444" stroke-width="0.45"/>
<line x1="403.35" y1="136.20" x2="403.35" y2="137.30" stroke="#444" stroke-width="0.45"/>
<line x1="404.60" y1="136.20" x2="404.60" y2="137.30" stroke="#444" stroke-width="0.45"/>
<line x1="405.71" y1="136.20" x2="405.71" y2="137.30" stroke="#444" stroke-width="0.45"/>
<line x1="406.70" y1="136.20" x2="406.70" y2="137.30" stroke="#444" stroke-width="0.45"/>
<line x1="318.60" y1="104.10" x2="320.20" y2="104.10" stroke="#333" stroke-width="0.5"/>
<line x1="318.60" y1="112.12" x2="320.20" y2="112.12" stroke="#333" stroke-width="0.5"/>
<line x1="318.60" y1="120.15" x2="320.20" y2="120.15" stroke="#333" stroke-width="0.5"/>
<line x1="318.60" y1="128.18" x2="320.20" y2="128.18" stroke="#333" stroke-width="0.5"/>
<line x1="318.60" y1="136.20" x2="320.20" y2="136.20" stroke="#333" stroke-width="0.5"/>
<text transform="translate(315.80,108.40) rotate(-90)" font-size="4.4" fill="#222" textLength="8" lengthAdjust="spacingAndGlyphs">256</text>
<text transform="translate(311.60,126.50) rotate(-90)" font-size="3.6" fill="#333" textLength="11.3" lengthAdjust="spacingAndGlyphs">Counts</text>
<text x="314.20" y="137.40" font-size="3.4" fill="#222">0</text>
<text x="317.00" y="142.00" font-size="4" fill="#222">10<tspan font-size="2.8" dy="-1.7">0</tspan></text>
<text x="338.62" y="142.00" font-size="4" fill="#222">10<tspan font-size="2.8" dy="-1.7">1</tspan></text>
<text x="360.25" y="142.00" font-size="4" fill="#222">10<tspan font-size="2.8" dy="-1.7">2</tspan></text>
<text x="381.88" y="142.00" font-size="4" fill="#222">10<tspan font-size="2.8" dy="-1.7">3</tspan></text>
<text x="403.50" y="142.00" font-size="4" fill="#222">10<tspan font-size="2.8" dy="-1.7">4</tspan></text>
<text x="353.60" y="146.00" font-size="4" fill="#222" textLength="17.3" lengthAdjust="spacingAndGlyphs">FL1 -GFP</text>
<path d="M320.20,122.00 C320.83,121.17 322.70,118.58 324.00,117.00 C325.30,115.42 326.58,113.83 328.00,112.50 C329.42,111.17 331.17,109.25 332.50,109.00 C333.83,108.75 335.00,109.67 336.00,111.00 C337.00,112.33 337.67,114.50 338.50,117.00 C339.33,119.50 340.17,123.33 341.00,126.00 C341.83,128.67 342.67,131.37 343.50,133.00 C344.33,134.63 335.50,135.30 346.00,135.80 C356.50,136.30 396.42,135.97 406.50,136.00" fill="none" stroke="#333" stroke-width="0.9" stroke-dasharray="1.3,1.0"/>
<path d="M320.20,118.30 C320.67,117.92 321.87,117.13 323.00,116.00 C324.13,114.87 325.60,112.80 327.00,111.50 C328.40,110.20 330.23,108.53 331.40,108.20 C332.57,107.87 333.07,108.37 334.00,109.50 C334.93,110.63 336.00,112.75 337.00,115.00 C338.00,117.25 339.00,120.33 340.00,123.00 C341.00,125.67 342.00,129.05 343.00,131.00 C344.00,132.95 345.00,134.15 346.00,134.70 C347.00,135.25 347.83,134.75 349.00,134.30 C350.17,133.85 351.83,132.75 353.00,132.00 C354.17,131.25 354.87,130.27 356.00,129.80 C357.13,129.33 358.63,129.08 359.80,129.20 C360.97,129.32 361.80,129.95 363.00,130.50 C364.20,131.05 365.50,131.98 367.00,132.50 C368.50,133.02 369.83,133.30 372.00,133.60 C374.17,133.90 376.67,134.03 380.00,134.30 C383.33,134.57 387.58,134.95 392.00,135.20 C396.42,135.45 404.08,135.70 406.50,135.80" fill="none" stroke="#000" stroke-width="1.6" stroke-linejoin="round"/>
<line x1="320.20" y1="103.80" x2="320.20" y2="136.60" stroke="#000" stroke-width="1.7"/>
<path d="M430.0,104.10 H516.50 V136.20" fill="none" stroke="#555" stroke-width="0.7"/>
<line x1="430.0" y1="136.40" x2="516.50" y2="136.40" stroke="#777" stroke-width="0.7"/>
<line x1="430.00" y1="136.20" x2="430.00" y2="137.30" stroke="#444" stroke-width="0.45"/>
<line x1="436.51" y1="136.20" x2="436.51" y2="137.30" stroke="#444" stroke-width="0.45"/>
<line x1="440.32" y1="136.20" x2="440.32" y2="137.30" stroke="#444" stroke-width="0.45"/>
<line x1="443.02" y1="136.20" x2="443.02" y2="137.30" stroke="#444" stroke-width="0.45"/>
<line x1="445.12" y1="136.20" x2="445.12" y2="137.30" stroke="#444" stroke-width="0.45"/>
<line x1="446.83" y1="136.20" x2="446.83" y2="137.30" stroke="#444" stroke-width="0.45"/>
<line x1="448.28" y1="136.20" x2="448.28" y2="137.30" stroke="#444" stroke-width="0.45"/>
<line x1="449.53" y1="136.20" x2="449.53" y2="137.30" stroke="#444" stroke-width="0.45"/>
<line x1="450.64" y1="136.20" x2="450.64" y2="137.30" stroke="#444" stroke-width="0.45"/>
<line x1="451.62" y1="136.20" x2="451.62" y2="137.30" stroke="#444" stroke-width="0.45"/>
<line x1="458.13" y1="136.20" x2="458.13" y2="137.30" stroke="#444" stroke-width="0.45"/>
<line x1="461.94" y1="136.20" x2="461.94" y2="137.30" stroke="#444" stroke-width="0.45"/>
<line x1="464.64" y1="136.20" x2="464.64" y2="137.30" stroke="#444" stroke-width="0.45"/>
<line x1="466.74" y1="136.20" x2="466.74" y2="137.30" stroke="#444" stroke-width="0.45"/>
<line x1="468.45" y1="136.20" x2="468.45" y2="137.30" stroke="#444" stroke-width="0.45"/>
<line x1="469.90" y1="136.20" x2="469.90" y2="137.30" stroke="#444" stroke-width="0.45"/>
<line x1="471.15" y1="136.20" x2="471.15" y2="137.30" stroke="#444" stroke-width="0.45"/>
<line x1="472.26" y1="136.20" x2="472.26" y2="137.30" stroke="#444" stroke-width="0.45"/>
<line x1="473.25" y1="136.20" x2="473.25" y2="137.30" stroke="#444" stroke-width="0.45"/>
<line x1="479.76" y1="136.20" x2="479.76" y2="137.30" stroke="#444" stroke-width="0.45"/>
<line x1="483.57" y1="136.20" x2="483.57" y2="137.30" stroke="#444" stroke-width="0.45"/>
<line x1="486.27" y1="136.20" x2="486.27" y2="137.30" stroke="#444" stroke-width="0.45"/>
<line x1="488.37" y1="136.20" x2="488.37" y2="137.30" stroke="#444" stroke-width="0.45"/>
<line x1="490.08" y1="136.20" x2="490.08" y2="137.30" stroke="#444" stroke-width="0.45"/>
<line x1="491.53" y1="136.20" x2="491.53" y2="137.30" stroke="#444" stroke-width="0.45"/>
<line x1="492.78" y1="136.20" x2="492.78" y2="137.30" stroke="#444" stroke-width="0.45"/>
<line x1="493.89" y1="136.20" x2="493.89" y2="137.30" stroke="#444" stroke-width="0.45"/>
<line x1="494.88" y1="136.20" x2="494.88" y2="137.30" stroke="#444" stroke-width="0.45"/>
<line x1="501.38" y1="136.20" x2="501.38" y2="137.30" stroke="#444" stroke-width="0.45"/>
<line x1="505.19" y1="136.20" x2="505.19" y2="137.30" stroke="#444" stroke-width="0.45"/>
<line x1="507.89" y1="136.20" x2="507.89" y2="137.30" stroke="#444" stroke-width="0.45"/>
<line x1="509.99" y1="136.20" x2="509.99" y2="137.30" stroke="#444" stroke-width="0.45"/>
<line x1="511.70" y1="136.20" x2="511.70" y2="137.30" stroke="#444" stroke-width="0.45"/>
<line x1="513.15" y1="136.20" x2="513.15" y2="137.30" stroke="#444" stroke-width="0.45"/>
<line x1="514.40" y1="136.20" x2="514.40" y2="137.30" stroke="#444" stroke-width="0.45"/>
<line x1="515.51" y1="136.20" x2="515.51" y2="137.30" stroke="#444" stroke-width="0.45"/>
<line x1="516.50" y1="136.20" x2="516.50" y2="137.30" stroke="#444" stroke-width="0.45"/>
<line x1="428.40" y1="104.10" x2="430.00" y2="104.10" stroke="#333" stroke-width="0.5"/>
<line x1="428.40" y1="112.12" x2="430.00" y2="112.12" stroke="#333" stroke-width="0.5"/>
<line x1="428.40" y1="120.15" x2="430.00" y2="120.15" stroke="#333" stroke-width="0.5"/>
<line x1="428.40" y1="128.18" x2="430.00" y2="128.18" stroke="#333" stroke-width="0.5"/>
<line x1="428.40" y1="136.20" x2="430.00" y2="136.20" stroke="#333" stroke-width="0.5"/>
<text transform="translate(425.60,108.40) rotate(-90)" font-size="4.4" fill="#222" textLength="8" lengthAdjust="spacingAndGlyphs">256</text>
<text transform="translate(421.40,126.50) rotate(-90)" font-size="3.6" fill="#333" textLength="11.3" lengthAdjust="spacingAndGlyphs">Counts</text>
<text x="424.00" y="137.40" font-size="3.4" fill="#222">0</text>
<text x="426.80" y="142.00" font-size="4" fill="#222">10<tspan font-size="2.8" dy="-1.7">0</tspan></text>
<text x="448.43" y="142.00" font-size="4" fill="#222">10<tspan font-size="2.8" dy="-1.7">1</tspan></text>
<text x="470.05" y="142.00" font-size="4" fill="#222">10<tspan font-size="2.8" dy="-1.7">2</tspan></text>
<text x="491.68" y="142.00" font-size="4" fill="#222">10<tspan font-size="2.8" dy="-1.7">3</tspan></text>
<text x="513.30" y="142.00" font-size="4" fill="#222">10<tspan font-size="2.8" dy="-1.7">4</tspan></text>
<text x="463.40" y="146.00" font-size="4" fill="#222" textLength="17.3" lengthAdjust="spacingAndGlyphs">FL1 -GFP</text>
<path d="M430.20,123.70 C430.83,122.83 432.70,120.03 434.00,118.50 C435.30,116.97 436.83,115.48 438.00,114.50 C439.17,113.52 440.12,112.95 441.00,112.60 C441.88,112.25 442.47,112.17 443.30,112.40 C444.13,112.63 445.22,113.15 446.00,114.00 C446.78,114.85 447.33,115.83 448.00,117.50 C448.67,119.17 449.42,121.83 450.00,124.00 C450.58,126.17 451.08,128.58 451.50,130.50 C451.92,132.42 441.67,134.58 452.50,135.50 C463.33,136.42 505.83,135.92 516.50,136.00" fill="none" stroke="#333" stroke-width="0.9" stroke-dasharray="1.3,1.0"/>
<path d="M430.20,132.90 C430.83,132.75 432.70,132.32 434.00,132.00 C435.30,131.68 436.45,131.32 438.00,131.00 C439.55,130.68 441.63,130.02 443.30,130.10 C444.97,130.18 446.72,130.98 448.00,131.50 C449.28,132.02 449.97,132.82 451.00,133.20 C452.03,133.58 453.03,134.08 454.20,133.80 C455.37,133.52 456.70,132.63 458.00,131.50 C459.30,130.37 460.67,128.45 462.00,127.00 C463.33,125.55 464.92,123.58 466.00,122.80 C467.08,122.02 467.67,122.02 468.50,122.30 C469.33,122.58 470.08,123.30 471.00,124.50 C471.92,125.70 473.00,128.00 474.00,129.50 C475.00,131.00 475.73,132.53 477.00,133.50 C478.27,134.47 479.43,134.92 481.60,135.30 C483.77,135.68 484.18,135.70 490.00,135.80 C495.82,135.90 512.08,135.88 516.50,135.90" fill="none" stroke="#000" stroke-width="1.6" stroke-linejoin="round"/>
<line x1="430.00" y1="103.80" x2="430.00" y2="136.60" stroke="#000" stroke-width="1.7"/>
<path d="M320.2,157.30 H406.70 V189.40" fill="none" stroke="#555" stroke-width="0.7"/>
<line x1="320.2" y1="189.60" x2="406.70" y2="189.60" stroke="#777" stroke-width="0.7"/>
<line x1="320.20" y1="189.40" x2="320.20" y2="190.50" stroke="#444" stroke-width="0.45"/>
<line x1="326.71" y1="189.40" x2="326.71" y2="190.50" stroke="#444" stroke-width="0.45"/>
<line x1="330.52" y1="189.40" x2="330.52" y2="190.50" stroke="#444" stroke-width="0.45"/>
<line x1="333.22" y1="189.40" x2="333.22" y2="190.50" stroke="#444" stroke-width="0.45"/>
<line x1="335.32" y1="189.40" x2="335.32" y2="190.50" stroke="#444" stroke-width="0.45"/>
<line x1="337.03" y1="189.40" x2="337.03" y2="190.50" stroke="#444" stroke-width="0.45"/>
<line x1="338.48" y1="189.40" x2="338.48" y2="190.50" stroke="#444" stroke-width="0.45"/>
<line x1="339.73" y1="189.40" x2="339.73" y2="190.50" stroke="#444" stroke-width="0.45"/>
<line x1="340.84" y1="189.40" x2="340.84" y2="190.50" stroke="#444" stroke-width="0.45"/>
<line x1="341.82" y1="189.40" x2="341.82" y2="190.50" stroke="#444" stroke-width="0.45"/>
<line x1="348.33" y1="189.40" x2="348.33" y2="190.50" stroke="#444" stroke-width="0.45"/>
<line x1="352.14" y1="189.40" x2="352.14" y2="190.50" stroke="#444" stroke-width="0.45"/>
<line x1="354.84" y1="189.40" x2="354.84" y2="190.50" stroke="#444" stroke-width="0.45"/>
<line x1="356.94" y1="189.40" x2="356.94" y2="190.50" stroke="#444" stroke-width="0.45"/>
<line x1="358.65" y1="189.40" x2="358.65" y2="190.50" stroke="#444" stroke-width="0.45"/>
<line x1="360.10" y1="189.40" x2="360.10" y2="190.50" stroke="#444" stroke-width="0.45"/>
<line x1="361.35" y1="189.40" x2="361.35" y2="190.50" stroke="#444" stroke-width="0.45"/>
<line x1="362.46" y1="189.40" x2="362.46" y2="190.50" stroke="#444" stroke-width="0.45"/>
<line x1="363.45" y1="189.40" x2="363.45" y2="190.50" stroke="#444" stroke-width="0.45"/>
<line x1="369.96" y1="189.40" x2="369.96" y2="190.50" stroke="#444" stroke-width="0.45"/>
<line x1="373.77" y1="189.40" x2="373.77" y2="190.50" stroke="#444" stroke-width="0.45"/>
<line x1="376.47" y1="189.40" x2="376.47" y2="190.50" stroke="#444" stroke-width="0.45"/>
<line x1="378.57" y1="189.40" x2="378.57" y2="190.50" stroke="#444" stroke-width="0.45"/>
<line x1="380.28" y1="189.40" x2="380.28" y2="190.50" stroke="#444" stroke-width="0.45"/>
<line x1="381.73" y1="189.40" x2="381.73" y2="190.50" stroke="#444" stroke-width="0.45"/>
<line x1="382.98" y1="189.40" x2="382.98" y2="190.50" stroke="#444" stroke-width="0.45"/>
<line x1="384.09" y1="189.40" x2="384.09" y2="190.50" stroke="#444" stroke-width="0.45"/>
<line x1="385.07" y1="189.40" x2="385.07" y2="190.50" stroke="#444" stroke-width="0.45"/>
<line x1="391.58" y1="189.40" x2="391.58" y2="190.50" stroke="#444" stroke-width="0.45"/>
<line x1="395.39" y1="189.40" x2="395.39" y2="190.50" stroke="#444" stroke-width="0.45"/>
<line x1="398.09" y1="189.40" x2="398.09" y2="190.50" stroke="#444" stroke-width="0.45"/>
<line x1="400.19" y1="189.40" x2="400.19" y2="190.50" stroke="#444" stroke-width="0.45"/>
<line x1="401.90" y1="189.40" x2="401.90" y2="190.50" stroke="#444" stroke-width="0.45"/>
<line x1="403.35" y1="189.40" x2="403.35" y2="190.50" stroke="#444" stroke-width="0.45"/>
<line x1="404.60" y1="189.40" x2="404.60" y2="190.50" stroke="#444" stroke-width="0.45"/>
<line x1="405.71" y1="189.40" x2="405.71" y2="190.50" stroke="#444" stroke-width="0.45"/>
<line x1="406.70" y1="189.40" x2="406.70" y2="190.50" stroke="#444" stroke-width="0.45"/>
<line x1="318.60" y1="157.30" x2="320.20" y2="157.30" stroke="#333" stroke-width="0.5"/>
<line x1="318.60" y1="165.33" x2="320.20" y2="165.33" stroke="#333" stroke-width="0.5"/>
<line x1="318.60" y1="173.35" x2="320.20" y2="173.35" stroke="#333" stroke-width="0.5"/>
<line x1="318.60" y1="181.38" x2="320.20" y2="181.38" stroke="#333" stroke-width="0.5"/>
<line x1="318.60" y1="189.40" x2="320.20" y2="189.40" stroke="#333" stroke-width="0.5"/>
<text transform="translate(315.80,161.60) rotate(-90)" font-size="4.4" fill="#222" textLength="8" lengthAdjust="spacingAndGlyphs">256</text>
<text transform="translate(311.60,179.70) rotate(-90)" font-size="3.6" fill="#333" textLength="11.3" lengthAdjust="spacingAndGlyphs">Counts</text>
<text x="314.20" y="190.60" font-size="3.4" fill="#222">0</text>
<text x="317.00" y="195.20" font-size="4" fill="#222">10<tspan font-size="2.8" dy="-1.7">0</tspan></text>
<text x="338.62" y="195.20" font-size="4" fill="#222">10<tspan font-size="2.8" dy="-1.7">1</tspan></text>
<text x="360.25" y="195.20" font-size="4" fill="#222">10<tspan font-size="2.8" dy="-1.7">2</tspan></text>
<text x="381.88" y="195.20" font-size="4" fill="#222">10<tspan font-size="2.8" dy="-1.7">3</tspan></text>
<text x="403.50" y="195.20" font-size="4" fill="#222">10<tspan font-size="2.8" dy="-1.7">4</tspan></text>
<text x="353.60" y="199.20" font-size="4" fill="#222" textLength="17.3" lengthAdjust="spacingAndGlyphs">FL1 -GFP</text>
<path d="M320.20,179.00 C320.67,178.33 321.87,176.83 323.00,175.00 C324.13,173.17 325.67,170.25 327.00,168.00 C328.33,165.75 329.97,162.83 331.00,161.50 C332.03,160.17 332.45,159.92 333.20,160.00 C333.95,160.08 334.70,160.58 335.50,162.00 C336.30,163.42 337.17,165.92 338.00,168.50 C338.83,171.08 339.67,174.92 340.50,177.50 C341.33,180.08 341.92,182.28 343.00,184.00 C344.08,185.72 344.17,186.95 347.00,187.80 C349.83,188.65 350.08,188.87 360.00,189.10 C369.92,189.33 398.75,189.18 406.50,189.20" fill="none" stroke="#333" stroke-width="0.9" stroke-dasharray="1.3,1.0"/>
<path d="M320.20,177.60 C320.58,177.08 321.53,176.02 322.50,174.50 C323.47,172.98 324.75,170.75 326.00,168.50 C327.25,166.25 328.92,162.82 330.00,161.00 C331.08,159.18 331.75,158.22 332.50,157.60 C333.25,156.98 333.75,156.82 334.50,157.30 C335.25,157.78 336.17,158.72 337.00,160.50 C337.83,162.28 338.60,165.33 339.50,168.00 C340.40,170.67 341.32,174.08 342.40,176.50 C343.48,178.92 344.48,180.95 346.00,182.50 C347.52,184.05 349.50,185.02 351.50,185.80 C353.50,186.58 355.58,186.83 358.00,187.20 C360.42,187.57 362.33,187.77 366.00,188.00 C369.67,188.23 373.25,188.45 380.00,188.60 C386.75,188.75 402.08,188.85 406.50,188.90" fill="none" stroke="#000" stroke-width="1.6" stroke-linejoin="round"/>
<line x1="320.20" y1="157.00" x2="320.20" y2="189.80" stroke="#000" stroke-width="1.7"/>
<path d="M430.0,157.30 H516.50 V189.40" fill="none" stroke="#555" stroke-width="0.7"/>
<line x1="430.0" y1="189.60" x2="516.50" y2="189.60" stroke="#777" stroke-width="0.7"/>
<line x1="430.00" y1="189.40" x2="430.00" y2="190.50" stroke="#444" stroke-width="0.45"/>
<line x1="436.51" y1="189.40" x2="436.51" y2="190.50" stroke="#444" stroke-width="0.45"/>
<line x1="440.32" y1="189.40" x2="440.32" y2="190.50" stroke="#444" stroke-width="0.45"/>
<line x1="443.02" y1="189.40" x2="443.02" y2="190.50" stroke="#444" stroke-width="0.45"/>
<line x1="445.12" y1="189.40" x2="445.12" y2="190.50" stroke="#444" stroke-width="0.45"/>
<line x1="446.83" y1="189.40" x2="446.83" y2="190.50" stroke="#444" stroke-width="0.45"/>
<line x1="448.28" y1="189.40" x2="448.28" y2="190.50" stroke="#444" stroke-width="0.45"/>
<line x1="449.53" y1="189.40" x2="449.53" y2="190.50" stroke="#444" stroke-width="0.45"/>
<line x1="450.64" y1="189.40" x2="450.64" y2="190.50" stroke="#444" stroke-width="0.45"/>
<line x1="451.62" y1="189.40" x2="451.62" y2="190.50" stroke="#444" stroke-width="0.45"/>
<line x1="458.13" y1="189.40" x2="458.13" y2="190.50" stroke="#444" stroke-width="0.45"/>
<line x1="461.94" y1="189.40" x2="461.94" y2="190.50" stroke="#444" stroke-width="0.45"/>
<line x1="464.64" y1="189.40" x2="464.64" y2="190.50" stroke="#444" stroke-width="0.45"/>
<line x1="466.74" y1="189.40" x2="466.74" y2="190.50" stroke="#444" stroke-width="0.45"/>
<line x1="468.45" y1="189.40" x2="468.45" y2="190.50" stroke="#444" stroke-width="0.45"/>
<line x1="469.90" y1="189.40" x2="469.90" y2="190.50" stroke="#444" stroke-width="0.45"/>
<line x1="471.15" y1="189.40" x2="471.15" y2="190.50" stroke="#444" stroke-width="0.45"/>
<line x1="472.26" y1="189.40" x2="472.26" y2="190.50" stroke="#444" stroke-width="0.45"/>
<line x1="473.25" y1="189.40" x2="473.25" y2="190.50" stroke="#444" stroke-width="0.45"/>
<line x1="479.76" y1="189.40" x2="479.76" y2="190.50" stroke="#444" stroke-width="0.45"/>
<line x1="483.57" y1="189.40" x2="483.57" y2="190.50" stroke="#444" stroke-width="0.45"/>
<line x1="486.27" y1="189.40" x2="486.27" y2="190.50" stroke="#444" stroke-width="0.45"/>
<line x1="488.37" y1="189.40" x2="488.37" y2="190.50" stroke="#444" stroke-width="0.45"/>
<line x1="490.08" y1="189.40" x2="490.08" y2="190.50" stroke="#444" stroke-width="0.45"/>
<line x1="491.53" y1="189.40" x2="491.53" y2="190.50" stroke="#444" stroke-width="0.45"/>
<line x1="492.78" y1="189.40" x2="492.78" y2="190.50" stroke="#444" stroke-width="0.45"/>
<line x1="493.89" y1="189.40" x2="493.89" y2="190.50" stroke="#444" stroke-width="0.45"/>
<line x1="494.88" y1="189.40" x2="494.88" y2="190.50" stroke="#444" stroke-width="0.45"/>
<line x1="501.38" y1="189.40" x2="501.38" y2="190.50" stroke="#444" stroke-width="0.45"/>
<line x1="505.19" y1="189.40" x2="505.19" y2="190.50" stroke="#444" stroke-width="0.45"/>
<line x1="507.89" y1="189.40" x2="507.89" y2="190.50" stroke="#444" stroke-width="0.45"/>
<line x1="509.99" y1="189.40" x2="509.99" y2="190.50" stroke="#444" stroke-width="0.45"/>
<line x1="511.70" y1="189.40" x2="511.70" y2="190.50" stroke="#444" stroke-width="0.45"/>
<line x1="513.15" y1="189.40" x2="513.15" y2="190.50" stroke="#444" stroke-width="0.45"/>
<line x1="514.40" y1="189.40" x2="514.40" y2="190.50" stroke="#444" stroke-width="0.45"/>
<line x1="515.51" y1="189.40" x2="515.51" y2="190.50" stroke="#444" stroke-width="0.45"/>
<line x1="516.50" y1="189.40" x2="516.50" y2="190.50" stroke="#444" stroke-width="0.45"/>
<line x1="428.40" y1="157.30" x2="430.00" y2="157.30" stroke="#333" stroke-width="0.5"/>
<line x1="428.40" y1="165.33" x2="430.00" y2="165.33" stroke="#333" stroke-width="0.5"/>
<line x1="428.40" y1="173.35" x2="430.00" y2="173.35" stroke="#333" stroke-width="0.5"/>
<line x1="428.40" y1="181.38" x2="430.00" y2="181.38" stroke="#333" stroke-width="0.5"/>
<line x1="428.40" y1="189.40" x2="430.00" y2="189.40" stroke="#333" stroke-width="0.5"/>
<text transform="translate(425.60,161.60) rotate(-90)" font-size="4.4" fill="#222" textLength="8" lengthAdjust="spacingAndGlyphs">256</text>
<text transform="translate(421.40,179.70) rotate(-90)" font-size="3.6" fill="#333" textLength="11.3" lengthAdjust="spacingAndGlyphs">Counts</text>
<text x="424.00" y="190.60" font-size="3.4" fill="#222">0</text>
<text x="426.80" y="195.20" font-size="4" fill="#222">10<tspan font-size="2.8" dy="-1.7">0</tspan></text>
<text x="448.43" y="195.20" font-size="4" fill="#222">10<tspan font-size="2.8" dy="-1.7">1</tspan></text>
<text x="470.05" y="195.20" font-size="4" fill="#222">10<tspan font-size="2.8" dy="-1.7">2</tspan></text>
<text x="491.68" y="195.20" font-size="4" fill="#222">10<tspan font-size="2.8" dy="-1.7">3</tspan></text>
<text x="513.30" y="195.20" font-size="4" fill="#222">10<tspan font-size="2.8" dy="-1.7">4</tspan></text>
<text x="463.40" y="199.20" font-size="4" fill="#222" textLength="17.3" lengthAdjust="spacingAndGlyphs">FL1 -GFP</text>
<path d="M430.20,175.70 C430.83,174.67 432.70,171.45 434.00,169.50 C435.30,167.55 436.92,165.33 438.00,164.00 C439.08,162.67 439.77,161.98 440.50,161.50 C441.23,161.02 441.65,160.85 442.40,161.10 C443.15,161.35 444.15,161.68 445.00,163.00 C445.85,164.32 446.75,166.67 447.50,169.00 C448.25,171.33 448.83,174.50 449.50,177.00 C450.17,179.50 450.83,182.07 451.50,184.00 C452.17,185.93 442.67,187.73 453.50,188.60 C464.33,189.47 506.00,189.10 516.50,189.20" fill="none" stroke="#333" stroke-width="0.9" stroke-dasharray="1.3,1.0"/>
<path d="M430.20,189.00 C433.83,188.98 447.70,189.15 452.00,188.90 C456.30,188.65 454.67,188.48 456.00,187.50 C457.33,186.52 458.67,185.08 460.00,183.00 C461.33,180.92 462.67,177.67 464.00,175.00 C465.33,172.33 466.65,168.85 468.00,167.00 C469.35,165.15 470.93,163.98 472.10,163.90 C473.27,163.82 473.85,164.82 475.00,166.50 C476.15,168.18 477.67,171.42 479.00,174.00 C480.33,176.58 481.83,179.92 483.00,182.00 C484.17,184.08 485.17,185.53 486.00,186.50 C486.83,187.47 487.00,187.42 488.00,187.80 C489.00,188.18 487.25,188.60 492.00,188.80 C496.75,189.00 512.42,188.97 516.50,189.00" fill="none" stroke="#000" stroke-width="1.6" stroke-linejoin="round"/>
<line x1="430.00" y1="157.00" x2="430.00" y2="189.80" stroke="#000" stroke-width="1.7"/>
<path d="M320.2,210.30 H406.70 V242.40" fill="none" stroke="#555" stroke-width="0.7"/>
<line x1="320.2" y1="242.60" x2="406.70" y2="242.60" stroke="#777" stroke-width="0.7"/>
<line x1="320.20" y1="242.40" x2="320.20" y2="243.50" stroke="#444" stroke-width="0.45"/>
<line x1="326.71" y1="242.40" x2="326.71" y2="243.50" stroke="#444" stroke-width="0.45"/>
<line x1="330.52" y1="242.40" x2="330.52" y2="243.50" stroke="#444" stroke-width="0.45"/>
<line x1="333.22" y1="242.40" x2="333.22" y2="243.50" stroke="#444" stroke-width="0.45"/>
<line x1="335.32" y1="242.40" x2="335.32" y2="243.50" stroke="#444" stroke-width="0.45"/>
<line x1="337.03" y1="242.40" x2="337.03" y2="243.50" stroke="#444" stroke-width="0.45"/>
<line x1="338.48" y1="242.40" x2="338.48" y2="243.50" stroke="#444" stroke-width="0.45"/>
<line x1="339.73" y1="242.40" x2="339.73" y2="243.50" stroke="#444" stroke-width="0.45"/>
<line x1="340.84" y1="242.40" x2="340.84" y2="243.50" stroke="#444" stroke-width="0.45"/>
<line x1="341.82" y1="242.40" x2="341.82" y2="243.50" stroke="#444" stroke-width="0.45"/>
<line x1="348.33" y1="242.40" x2="348.33" y2="243.50" stroke="#444" stroke-width="0.45"/>
<line x1="352.14" y1="242.40" x2="352.14" y2="243.50" stroke="#444" stroke-width="0.45"/>
<line x1="354.84" y1="242.40" x2="354.84" y2="243.50" stroke="#444" stroke-width="0.45"/>
<line x1="356.94" y1="242.40" x2="356.94" y2="243.50" stroke="#444" stroke-width="0.45"/>
<line x1="358.65" y1="242.40" x2="358.65" y2="243.50" stroke="#444" stroke-width="0.45"/>
<line x1="360.10" y1="242.40" x2="360.10" y2="243.50" stroke="#444" stroke-width="0.45"/>
<line x1="361.35" y1="242.40" x2="361.35" y2="243.50" stroke="#444" stroke-width="0.45"/>
<line x1="362.46" y1="242.40" x2="362.46" y2="243.50" stroke="#444" stroke-width="0.45"/>
<line x1="363.45" y1="242.40" x2="363.45" y2="243.50" stroke="#444" stroke-width="0.45"/>
<line x1="369.96" y1="242.40" x2="369.96" y2="243.50" stroke="#444" stroke-width="0.45"/>
<line x1="373.77" y1="242.40" x2="373.77" y2="243.50" stroke="#444" stroke-width="0.45"/>
<line x1="376.47" y1="242.40" x2="376.47" y2="243.50" stroke="#444" stroke-width="0.45"/>
<line x1="378.57" y1="242.40" x2="378.57" y2="243.50" stroke="#444" stroke-width="0.45"/>
<line x1="380.28" y1="242.40" x2="380.28" y2="243.50" stroke="#444" stroke-width="0.45"/>
<line x1="381.73" y1="242.40" x2="381.73" y2="243.50" stroke="#444" stroke-width="0.45"/>
<line x1="382.98" y1="242.40" x2="382.98" y2="243.50" stroke="#444" stroke-width="0.45"/>
<line x1="384.09" y1="242.40" x2="384.09" y2="243.50" stroke="#444" stroke-width="0.45"/>
<line x1="385.07" y1="242.40" x2="385.07" y2="243.50" stroke="#444" stroke-width="0.45"/>
<line x1="391.58" y1="242.40" x2="391.58" y2="243.50" stroke="#444" stroke-width="0.45"/>
<line x1="395.39" y1="242.40" x2="395.39" y2="243.50" stroke="#444" stroke-width="0.45"/>
<line x1="398.09" y1="242.40" x2="398.09" y2="243.50" stroke="#444" stroke-width="0.45"/>
<line x1="400.19" y1="242.40" x2="400.19" y2="243.50" stroke="#444" stroke-width="0.45"/>
<line x1="401.90" y1="242.40" x2="401.90" y2="243.50" stroke="#444" stroke-width="0.45"/>
<line x1="403.35" y1="242.40" x2="403.35" y2="243.50" stroke="#444" stroke-width="0.45"/>
<line x1="404.60" y1="242.40" x2="404.60" y2="243.50" stroke="#444" stroke-width="0.45"/>
<line x1="405.71" y1="242.40" x2="405.71" y2="243.50" stroke="#444" stroke-width="0.45"/>
<line x1="406.70" y1="242.40" x2="406.70" y2="243.50" stroke="#444" stroke-width="0.45"/>
<line x1="318.60" y1="210.30" x2="320.20" y2="210.30" stroke="#333" stroke-width="0.5"/>
<line x1="318.60" y1="218.33" x2="320.20" y2="218.33" stroke="#333" stroke-width="0.5"/>
<line x1="318.60" y1="226.35" x2="320.20" y2="226.35" stroke="#333" stroke-width="0.5"/>
<line x1="318.60" y1="234.38" x2="320.20" y2="234.38" stroke="#333" stroke-width="0.5"/>
<line x1="318.60" y1="242.40" x2="320.20" y2="242.40" stroke="#333" stroke-width="0.5"/>
<text transform="translate(315.80,214.60) rotate(-90)" font-size="4.4" fill="#222" textLength="8" lengthAdjust="spacingAndGlyphs">256</text>
<text transform="translate(311.60,232.70) rotate(-90)" font-size="3.6" fill="#333" textLength="11.3" lengthAdjust="spacingAndGlyphs">Counts</text>
<text x="314.20" y="243.60" font-size="3.4" fill="#222">0</text>
<text x="317.00" y="248.20" font-size="4" fill="#222">10<tspan font-size="2.8" dy="-1.7">0</tspan></text>
<text x="338.62" y="248.20" font-size="4" fill="#222">10<tspan font-size="2.8" dy="-1.7">1</tspan></text>
<text x="360.25" y="248.20" font-size="4" fill="#222">10<tspan font-size="2.8" dy="-1.7">2</tspan></text>
<text x="381.88" y="248.20" font-size="4" fill="#222">10<tspan font-size="2.8" dy="-1.7">3</tspan></text>
<text x="403.50" y="248.20" font-size="4" fill="#222">10<tspan font-size="2.8" dy="-1.7">4</tspan></text>
<text x="353.60" y="252.20" font-size="4" fill="#222" textLength="17.3" lengthAdjust="spacingAndGlyphs">FL1 -GFP</text>
<path d="M320.20,231.00 C320.75,230.17 322.28,227.92 323.50,226.00 C324.72,224.08 326.25,221.28 327.50,219.50 C328.75,217.72 330.03,216.13 331.00,215.30 C331.97,214.47 332.55,214.38 333.30,214.50 C334.05,214.62 334.72,214.83 335.50,216.00 C336.28,217.17 337.08,219.17 338.00,221.50 C338.92,223.83 340.08,227.42 341.00,230.00 C341.92,232.58 342.67,235.17 343.50,237.00 C344.33,238.83 344.58,240.13 346.00,241.00 C347.42,241.87 341.92,241.97 352.00,242.20 C362.08,242.43 397.42,242.37 406.50,242.40" fill="none" stroke="#333" stroke-width="0.9" stroke-dasharray="1.3,1.0"/>
<path d="M320.20,233.30 C320.67,232.78 321.87,231.50 323.00,230.20 C324.13,228.90 325.75,227.00 327.00,225.50 C328.25,224.00 329.45,222.18 330.50,221.20 C331.55,220.22 332.38,219.72 333.30,219.60 C334.22,219.48 335.05,219.60 336.00,220.50 C336.95,221.40 338.00,223.00 339.00,225.00 C340.00,227.00 341.08,230.30 342.00,232.50 C342.92,234.70 343.67,236.82 344.50,238.20 C345.33,239.58 345.75,240.20 347.00,240.80 C348.25,241.40 342.08,241.57 352.00,241.80 C361.92,242.03 397.42,242.13 406.50,242.20" fill="none" stroke="#000" stroke-width="1.6" stroke-linejoin="round"/>
<line x1="320.20" y1="210.00" x2="320.20" y2="242.80" stroke="#000" stroke-width="1.7"/>
<path d="M430.0,210.30 H516.50 V242.40" fill="none" stroke="#555" stroke-width="0.7"/>
<line x1="430.0" y1="242.60" x2="516.50" y2="242.60" stroke="#777" stroke-width="0.7"/>
<line x1="430.00" y1="242.40" x2="430.00" y2="243.50" stroke="#444" stroke-width="0.45"/>
<line x1="436.51" y1="242.40" x2="436.51" y2="243.50" stroke="#444" stroke-width="0.45"/>
<line x1="440.32" y1="242.40" x2="440.32" y2="243.50" stroke="#444" stroke-width="0.45"/>
<line x1="443.02" y1="242.40" x2="443.02" y2="243.50" stroke="#444" stroke-width="0.45"/>
<line x1="445.12" y1="242.40" x2="445.12" y2="243.50" stroke="#444" stroke-width="0.45"/>
<line x1="446.83" y1="242.40" x2="446.83" y2="243.50" stroke="#444" stroke-width="0.45"/>
<line x1="448.28" y1="242.40" x2="448.28" y2="243.50" stroke="#444" stroke-width="0.45"/>
<line x1="449.53" y1="242.40" x2="449.53" y2="243.50" stroke="#444" stroke-width="0.45"/>
<line x1="450.64" y1="242.40" x2="450.64" y2="243.50" stroke="#444" stroke-width="0.45"/>
<line x1="451.62" y1="242.40" x2="451.62" y2="243.50" stroke="#444" stroke-width="0.45"/>
<line x1="458.13" y1="242.40" x2="458.13" y2="243.50" stroke="#444" stroke-width="0.45"/>
<line x1="461.94" y1="242.40" x2="461.94" y2="243.50" stroke="#444" stroke-width="0.45"/>
<line x1="464.64" y1="242.40" x2="464.64" y2="243.50" stroke="#444" stroke-width="0.45"/>
<line x1="466.74" y1="242.40" x2="466.74" y2="243.50" stroke="#444" stroke-width="0.45"/>
<line x1="468.45" y1="242.40" x2="468.45" y2="243.50" stroke="#444" stroke-width="0.45"/>
<line x1="469.90" y1="242.40" x2="469.90" y2="243.50" stroke="#444" stroke-width="0.45"/>
<line x1="471.15" y1="242.40" x2="471.15" y2="243.50" stroke="#444" stroke-width="0.45"/>
<line x1="472.26" y1="242.40" x2="472.26" y2="243.50" stroke="#444" stroke-width="0.45"/>
<line x1="473.25" y1="242.40" x2="473.25" y2="243.50" stroke="#444" stroke-width="0.45"/>
<line x1="479.76" y1="242.40" x2="479.76" y2="243.50" stroke="#444" stroke-width="0.45"/>
<line x1="483.57" y1="242.40" x2="483.57" y2="243.50" stroke="#444" stroke-width="0.45"/>
<line x1="486.27" y1="242.40" x2="486.27" y2="243.50" stroke="#444" stroke-width="0.45"/>
<line x1="488.37" y1="242.40" x2="488.37" y2="243.50" stroke="#444" stroke-width="0.45"/>
<line x1="490.08" y1="242.40" x2="490.08" y2="243.50" stroke="#444" stroke-width="0.45"/>
<line x1="491.53" y1="242.40" x2="491.53" y2="243.50" stroke="#444" stroke-width="0.45"/>
<line x1="492.78" y1="242.40" x2="492.78" y2="243.50" stroke="#444" stroke-width="0.45"/>
<line x1="493.89" y1="242.40" x2="493.89" y2="243.50" stroke="#444" stroke-width="0.45"/>
<line x1="494.88" y1="242.40" x2="494.88" y2="243.50" stroke="#444" stroke-width="0.45"/>
<line x1="501.38" y1="242.40" x2="501.38" y2="243.50" stroke="#444" stroke-width="0.45"/>
<line x1="505.19" y1="242.40" x2="505.19" y2="243.50" stroke="#444" stroke-width="0.45"/>
<line x1="507.89" y1="242.40" x2="507.89" y2="243.50" stroke="#444" stroke-width="0.45"/>
<line x1="509.99" y1="242.40" x2="509.99" y2="243.50" stroke="#444" stroke-width="0.45"/>
<line x1="511.70" y1="242.40" x2="511.70" y2="243.50" stroke="#444" stroke-width="0.45"/>
<line x1="513.15" y1="242.40" x2="513.15" y2="243.50" stroke="#444" stroke-width="0.45"/>
<line x1="514.40" y1="242.40" x2="514.40" y2="243.50" stroke="#444" stroke-width="0.45"/>
<line x1="515.51" y1="242.40" x2="515.51" y2="243.50" stroke="#444" stroke-width="0.45"/>
<line x1="516.50" y1="242.40" x2="516.50" y2="243.50" stroke="#444" stroke-width="0.45"/>
<line x1="428.40" y1="210.30" x2="430.00" y2="210.30" stroke="#333" stroke-width="0.5"/>
<line x1="428.40" y1="218.33" x2="430.00" y2="218.33" stroke="#333" stroke-width="0.5"/>
<line x1="428.40" y1="226.35" x2="430.00" y2="226.35" stroke="#333" stroke-width="0.5"/>
<line x1="428.40" y1="234.38" x2="430.00" y2="234.38" stroke="#333" stroke-width="0.5"/>
<line x1="428.40" y1="242.40" x2="430.00" y2="242.40" stroke="#333" stroke-width="0.5"/>
<text transform="translate(425.60,214.60) rotate(-90)" font-size="4.4" fill="#222" textLength="8" lengthAdjust="spacingAndGlyphs">256</text>
<text transform="translate(421.40,232.70) rotate(-90)" font-size="3.6" fill="#333" textLength="11.3" lengthAdjust="spacingAndGlyphs">Counts</text>
<text x="424.00" y="243.60" font-size="3.4" fill="#222">0</text>
<text x="426.80" y="248.20" font-size="4" fill="#222">10<tspan font-size="2.8" dy="-1.7">0</tspan></text>
<text x="448.43" y="248.20" font-size="4" fill="#222">10<tspan font-size="2.8" dy="-1.7">1</tspan></text>
<text x="470.05" y="248.20" font-size="4" fill="#222">10<tspan font-size="2.8" dy="-1.7">2</tspan></text>
<text x="491.68" y="248.20" font-size="4" fill="#222">10<tspan font-size="2.8" dy="-1.7">3</tspan></text>
<text x="513.30" y="248.20" font-size="4" fill="#222">10<tspan font-size="2.8" dy="-1.7">4</tspan></text>
<text x="463.40" y="252.20" font-size="4" fill="#222" textLength="17.3" lengthAdjust="spacingAndGlyphs">FL1 -GFP</text>
<path d="M430.20,228.70 C430.83,227.67 432.70,224.37 434.00,222.50 C435.30,220.63 436.83,218.78 438.00,217.50 C439.17,216.22 440.12,215.37 441.00,214.80 C441.88,214.23 442.55,213.90 443.30,214.10 C444.05,214.30 444.72,214.85 445.50,216.00 C446.28,217.15 447.25,218.83 448.00,221.00 C448.75,223.17 449.37,226.33 450.00,229.00 C450.63,231.67 451.22,234.87 451.80,237.00 C452.38,239.13 442.72,240.90 453.50,241.80 C464.28,242.70 506.00,242.30 516.50,242.40" fill="none" stroke="#333" stroke-width="0.9" stroke-dasharray="1.3,1.0"/>
<path d="M430.20,237.90 C430.67,237.50 431.87,236.15 433.00,235.50 C434.13,234.85 435.60,234.37 437.00,234.00 C438.40,233.63 440.07,233.30 441.40,233.30 C442.73,233.30 443.90,233.47 445.00,234.00 C446.10,234.53 447.00,235.58 448.00,236.50 C449.00,237.42 450.17,238.72 451.00,239.50 C451.83,240.28 451.50,240.78 453.00,241.20 C454.50,241.62 456.83,241.90 460.00,242.00 C463.17,242.10 469.33,242.22 472.00,241.80 C474.67,241.38 474.83,240.97 476.00,239.50 C477.17,238.03 478.08,235.42 479.00,233.00 C479.92,230.58 480.82,226.93 481.50,225.00 C482.18,223.07 482.52,221.65 483.10,221.40 C483.68,221.15 484.27,221.90 485.00,223.50 C485.73,225.10 486.75,228.58 487.50,231.00 C488.25,233.42 488.83,236.27 489.50,238.00 C490.17,239.73 490.42,240.72 491.50,241.40 C492.58,242.08 491.83,241.97 496.00,242.10 C500.17,242.23 513.08,242.18 516.50,242.20" fill="none" stroke="#000" stroke-width="1.6" stroke-linejoin="round"/>
<line x1="430.00" y1="210.00" x2="430.00" y2="242.80" stroke="#000" stroke-width="1.7"/>
<path d="M320.2,264.10 H406.70 V296.20" fill="none" stroke="#555" stroke-width="0.7"/>
<line x1="320.2" y1="296.40" x2="406.70" y2="296.40" stroke="#777" stroke-width="0.7"/>
<line x1="320.20" y1="296.20" x2="320.20" y2="297.30" stroke="#444" stroke-width="0.45"/>
<line x1="326.71" y1="296.20" x2="326.71" y2="297.30" stroke="#444" stroke-width="0.45"/>
<line x1="330.52" y1="296.20" x2="330.52" y2="297.30" stroke="#444" stroke-width="0.45"/>
<line x1="333.22" y1="296.20" x2="333.22" y2="297.30" stroke="#444" stroke-width="0.45"/>
<line x1="335.32" y1="296.20" x2="335.32" y2="297.30" stroke="#444" stroke-width="0.45"/>
<line x1="337.03" y1="296.20" x2="337.03" y2="297.30" stroke="#444" stroke-width="0.45"/>
<line x1="338.48" y1="296.20" x2="338.48" y2="297.30" stroke="#444" stroke-width="0.45"/>
<line x1="339.73" y1="296.20" x2="339.73" y2="297.30" stroke="#444" stroke-width="0.45"/>
<line x1="340.84" y1="296.20" x2="340.84" y2="297.30" stroke="#444" stroke-width="0.45"/>
<line x1="341.82" y1="296.20" x2="341.82" y2="297.30" stroke="#444" stroke-width="0.45"/>
<line x1="348.33" y1="296.20" x2="348.33" y2="297.30" stroke="#444" stroke-width="0.45"/>
<line x1="352.14" y1="296.20" x2="352.14" y2="297.30" stroke="#444" stroke-width="0.45"/>
<line x1="354.84" y1="296.20" x2="354.84" y2="297.30" stroke="#444" stroke-width="0.45"/>
<line x1="356.94" y1="296.20" x2="356.94" y2="297.30" stroke="#444" stroke-width="0.45"/>
<line x1="358.65" y1="296.20" x2="358.65" y2="297.30" stroke="#444" stroke-width="0.45"/>
<line x1="360.10" y1="296.20" x2="360.10" y2="297.30" stroke="#444" stroke-width="0.45"/>
<line x1="361.35" y1="296.20" x2="361.35" y2="297.30" stroke="#444" stroke-width="0.45"/>
<line x1="362.46" y1="296.20" x2="362.46" y2="297.30" stroke="#444" stroke-width="0.45"/>
<line x1="363.45" y1="296.20" x2="363.45" y2="297.30" stroke="#444" stroke-width="0.45"/>
<line x1="369.96" y1="296.20" x2="369.96" y2="297.30" stroke="#444" stroke-width="0.45"/>
<line x1="373.77" y1="296.20" x2="373.77" y2="297.30" stroke="#444" stroke-width="0.45"/>
<line x1="376.47" y1="296.20" x2="376.47" y2="297.30" stroke="#444" stroke-width="0.45"/>
<line x1="378.57" y1="296.20" x2="378.57" y2="297.30" stroke="#444" stroke-width="0.45"/>
<line x1="380.28" y1="296.20" x2="380.28" y2="297.30" stroke="#444" stroke-width="0.45"/>
<line x1="381.73" y1="296.20" x2="381.73" y2="297.30" stroke="#444" stroke-width="0.45"/>
<line x1="382.98" y1="296.20" x2="382.98" y2="297.30" stroke="#444" stroke-width="0.45"/>
<line x1="384.09" y1="296.20" x2="384.09" y2="297.30" stroke="#444" stroke-width="0.45"/>
<line x1="385.07" y1="296.20" x2="385.07" y2="297.30" stroke="#444" stroke-width="0.45"/>
<line x1="391.58" y1="296.20" x2="391.58" y2="297.30" stroke="#444" stroke-width="0.45"/>
<line x1="395.39" y1="296.20" x2="395.39" y2="297.30" stroke="#444" stroke-width="0.45"/>
<line x1="398.09" y1="296.20" x2="398.09" y2="297.30" stroke="#444" stroke-width="0.45"/>
<line x1="400.19" y1="296.20" x2="400.19" y2="297.30" stroke="#444" stroke-width="0.45"/>
<line x1="401.90" y1="296.20" x2="401.90" y2="297.30" stroke="#444" stroke-width="0.45"/>
<line x1="403.35" y1="296.20" x2="403.35" y2="297.30" stroke="#444" stroke-width="0.45"/>
<line x1="404.60" y1="296.20" x2="404.60" y2="297.30" stroke="#444" stroke-width="0.45"/>
<line x1="405.71" y1="296.20" x2="405.71" y2="297.30" stroke="#444" stroke-width="0.45"/>
<line x1="406.70" y1="296.20" x2="406.70" y2="297.30" stroke="#444" stroke-width="0.45"/>
<line x1="318.60" y1="264.10" x2="320.20" y2="264.10" stroke="#333" stroke-width="0.5"/>
<line x1="318.60" y1="272.12" x2="320.20" y2="272.12" stroke="#333" stroke-width="0.5"/>
<line x1="318.60" y1="280.15" x2="320.20" y2="280.15" stroke="#333" stroke-width="0.5"/>
<line x1="318.60" y1="288.18" x2="320.20" y2="288.18" stroke="#333" stroke-width="0.5"/>
<line x1="318.60" y1="296.20" x2="320.20" y2="296.20" stroke="#333" stroke-width="0.5"/>
<text transform="translate(315.80,268.40) rotate(-90)" font-size="4.4" fill="#222" textLength="8" lengthAdjust="spacingAndGlyphs">256</text>
<text transform="translate(311.60,286.50) rotate(-90)" font-size="3.6" fill="#333" textLength="11.3" lengthAdjust="spacingAndGlyphs">Counts</text>
<text x="314.20" y="297.40" font-size="3.4" fill="#222">0</text>
<text x="317.00" y="302.00" font-size="4" fill="#222">10<tspan font-size="2.8" dy="-1.7">0</tspan></text>
<text x="338.62" y="302.00" font-size="4" fill="#222">10<tspan font-size="2.8" dy="-1.7">1</tspan></text>
<text x="360.25" y="302.00" font-size="4" fill="#222">10<tspan font-size="2.8" dy="-1.7">2</tspan></text>
<text x="381.88" y="302.00" font-size="4" fill="#222">10<tspan font-size="2.8" dy="-1.7">3</tspan></text>
<text x="403.50" y="302.00" font-size="4" fill="#222">10<tspan font-size="2.8" dy="-1.7">4</tspan></text>
<text x="353.60" y="306.00" font-size="4" fill="#222" textLength="17.3" lengthAdjust="spacingAndGlyphs">FL1 -GFP</text>
<path d="M320.20,286.30 C320.75,285.42 322.28,283.05 323.50,281.00 C324.72,278.95 326.25,276.00 327.50,274.00 C328.75,272.00 330.03,270.00 331.00,269.00 C331.97,268.00 332.55,267.92 333.30,268.00 C334.05,268.08 334.72,268.33 335.50,269.50 C336.28,270.67 337.08,272.58 338.00,275.00 C338.92,277.42 340.08,281.33 341.00,284.00 C341.92,286.67 342.67,289.12 343.50,291.00 C344.33,292.88 343.92,294.43 346.00,295.30 C348.08,296.17 345.92,296.03 356.00,296.20 C366.08,296.37 398.08,296.28 406.50,296.30" fill="none" stroke="#333" stroke-width="0.9" stroke-dasharray="1.3,1.0"/>
<path d="M320.20,289.10 C320.67,288.67 321.87,287.68 323.00,286.50 C324.13,285.32 325.75,283.50 327.00,282.00 C328.25,280.50 329.45,278.55 330.50,277.50 C331.55,276.45 332.38,275.82 333.30,275.70 C334.22,275.58 335.05,275.92 336.00,276.80 C336.95,277.68 338.00,279.13 339.00,281.00 C340.00,282.87 341.00,285.92 342.00,288.00 C343.00,290.08 344.00,292.25 345.00,293.50 C346.00,294.75 346.17,295.08 348.00,295.50 C349.83,295.92 346.25,295.90 356.00,296.00 C365.75,296.10 398.08,296.08 406.50,296.10" fill="none" stroke="#000" stroke-width="1.6" stroke-linejoin="round"/>
<line x1="320.20" y1="263.80" x2="320.20" y2="296.60" stroke="#000" stroke-width="1.7"/>
<path d="M430.0,264.10 H516.50 V296.20" fill="none" stroke="#555" stroke-width="0.7"/>
<line x1="430.0" y1="296.40" x2="516.50" y2="296.40" stroke="#777" stroke-width="0.7"/>
<line x1="430.00" y1="296.20" x2="430.00" y2="297.30" stroke="#444" stroke-width="0.45"/>
<line x1="436.51" y1="296.20" x2="436.51" y2="297.30" stroke="#444" stroke-width="0.45"/>
<line x1="440.32" y1="296.20" x2="440.32" y2="297.30" stroke="#444" stroke-width="0.45"/>
<line x1="443.02" y1="296.20" x2="443.02" y2="297.30" stroke="#444" stroke-width="0.45"/>
<line x1="445.12" y1="296.20" x2="445.12" y2="297.30" stroke="#444" stroke-width="0.45"/>
<line x1="446.83" y1="296.20" x2="446.83" y2="297.30" stroke="#444" stroke-width="0.45"/>
<line x1="448.28" y1="296.20" x2="448.28" y2="297.30" stroke="#444" stroke-width="0.45"/>
<line x1="449.53" y1="296.20" x2="449.53" y2="297.30" stroke="#444" stroke-width="0.45"/>
<line x1="450.64" y1="296.20" x2="450.64" y2="297.30" stroke="#444" stroke-width="0.45"/>
<line x1="451.62" y1="296.20" x2="451.62" y2="297.30" stroke="#444" stroke-width="0.45"/>
<line x1="458.13" y1="296.20" x2="458.13" y2="297.30" stroke="#444" stroke-width="0.45"/>
<line x1="461.94" y1="296.20" x2="461.94" y2="297.30" stroke="#444" stroke-width="0.45"/>
<line x1="464.64" y1="296.20" x2="464.64" y2="297.30" stroke="#444" stroke-width="0.45"/>
<line x1="466.74" y1="296.20" x2="466.74" y2="297.30" stroke="#444" stroke-width="0.45"/>
<line x1="468.45" y1="296.20" x2="468.45" y2="297.30" stroke="#444" stroke-width="0.45"/>
<line x1="469.90" y1="296.20" x2="469.90" y2="297.30" stroke="#444" stroke-width="0.45"/>
<line x1="471.15" y1="296.20" x2="471.15" y2="297.30" stroke="#444" stroke-width="0.45"/>
<line x1="472.26" y1="296.20" x2="472.26" y2="297.30" stroke="#444" stroke-width="0.45"/>
<line x1="473.25" y1="296.20" x2="473.25" y2="297.30" stroke="#444" stroke-width="0.45"/>
<line x1="479.76" y1="296.20" x2="479.76" y2="297.30" stroke="#444" stroke-width="0.45"/>
<line x1="483.57" y1="296.20" x2="483.57" y2="297.30" stroke="#444" stroke-width="0.45"/>
<line x1="486.27" y1="296.20" x2="486.27" y2="297.30" stroke="#444" stroke-width="0.45"/>
<line x1="488.37" y1="296.20" x2="488.37" y2="297.30" stroke="#444" stroke-width="0.45"/>
<line x1="490.08" y1="296.20" x2="490.08" y2="297.30" stroke="#444" stroke-width="0.45"/>
<line x1="491.53" y1="296.20" x2="491.53" y2="297.30" stroke="#444" stroke-width="0.45"/>
<line x1="492.78" y1="296.20" x2="492.78" y2="297.30" stroke="#444" stroke-width="0.45"/>
<line x1="493.89" y1="296.20" x2="493.89" y2="297.30" stroke="#444" stroke-width="0.45"/>
<line x1="494.88" y1="296.20" x2="494.88" y2="297.30" stroke="#444" stroke-width="0.45"/>
<line x1="501.38" y1="296.20" x2="501.38" y2="297.30" stroke="#444" stroke-width="0.45"/>
<line x1="505.19" y1="296.20" x2="505.19" y2="297.30" stroke="#444" stroke-width="0.45"/>
<line x1="507.89" y1="296.20" x2="507.89" y2="297.30" stroke="#444" stroke-width="0.45"/>
<line x1="509.99" y1="296.20" x2="509.99" y2="297.30" stroke="#444" stroke-width="0.45"/>
<line x1="511.70" y1="296.20" x2="511.70" y2="297.30" stroke="#444" stroke-width="0.45"/>
<line x1="513.15" y1="296.20" x2="513.15" y2="297.30" stroke="#444" stroke-width="0.45"/>
<line x1="514.40" y1="296.20" x2="514.40" y2="297.30" stroke="#444" stroke-width="0.45"/>
<line x1="515.51" y1="296.20" x2="515.51" y2="297.30" stroke="#444" stroke-width="0.45"/>
<line x1="516.50" y1="296.20" x2="516.50" y2="297.30" stroke="#444" stroke-width="0.45"/>
<line x1="428.40" y1="264.10" x2="430.00" y2="264.10" stroke="#333" stroke-width="0.5"/>
<line x1="428.40" y1="272.12" x2="430.00" y2="272.12" stroke="#333" stroke-width="0.5"/>
<line x1="428.40" y1="280.15" x2="430.00" y2="280.15" stroke="#333" stroke-width="0.5"/>
<line x1="428.40" y1="288.18" x2="430.00" y2="288.18" stroke="#333" stroke-width="0.5"/>
<line x1="428.40" y1="296.20" x2="430.00" y2="296.20" stroke="#333" stroke-width="0.5"/>
<text transform="translate(425.60,268.40) rotate(-90)" font-size="4.4" fill="#222" textLength="8" lengthAdjust="spacingAndGlyphs">256</text>
<text transform="translate(421.40,286.50) rotate(-90)" font-size="3.6" fill="#333" textLength="11.3" lengthAdjust="spacingAndGlyphs">Counts</text>
<text x="424.00" y="297.40" font-size="3.4" fill="#222">0</text>
<text x="426.80" y="302.00" font-size="4" fill="#222">10<tspan font-size="2.8" dy="-1.7">0</tspan></text>
<text x="448.43" y="302.00" font-size="4" fill="#222">10<tspan font-size="2.8" dy="-1.7">1</tspan></text>
<text x="470.05" y="302.00" font-size="4" fill="#222">10<tspan font-size="2.8" dy="-1.7">2</tspan></text>
<text x="491.68" y="302.00" font-size="4" fill="#222">10<tspan font-size="2.8" dy="-1.7">3</tspan></text>
<text x="513.30" y="302.00" font-size="4" fill="#222">10<tspan font-size="2.8" dy="-1.7">4</tspan></text>
<text x="463.40" y="306.00" font-size="4" fill="#222" textLength="17.3" lengthAdjust="spacingAndGlyphs">FL1 -GFP</text>
<path d="M430.20,282.30 C430.83,281.33 432.70,278.30 434.00,276.50 C435.30,274.70 436.83,272.80 438.00,271.50 C439.17,270.20 440.12,269.27 441.00,268.70 C441.88,268.13 442.55,267.92 443.30,268.10 C444.05,268.28 444.72,268.65 445.50,269.80 C446.28,270.95 447.25,272.80 448.00,275.00 C448.75,277.20 449.37,280.42 450.00,283.00 C450.63,285.58 451.22,288.37 451.80,290.50 C452.38,292.63 442.72,294.83 453.50,295.80 C464.28,296.77 506.00,296.22 516.50,296.30" fill="none" stroke="#333" stroke-width="0.9" stroke-dasharray="1.3,1.0"/>
<path d="M430.20,287.30 C430.67,287.02 431.87,286.18 433.00,285.60 C434.13,285.02 435.63,284.18 437.00,283.80 C438.37,283.42 440.03,283.17 441.20,283.30 C442.37,283.43 443.03,283.73 444.00,284.60 C444.97,285.47 446.00,287.10 447.00,288.50 C448.00,289.90 448.95,291.87 450.00,293.00 C451.05,294.13 452.13,295.13 453.30,295.30 C454.47,295.47 455.72,295.13 457.00,294.00 C458.28,292.87 459.67,290.75 461.00,288.50 C462.33,286.25 463.75,282.38 465.00,280.50 C466.25,278.62 467.50,277.45 468.50,277.20 C469.50,276.95 470.08,277.70 471.00,279.00 C471.92,280.30 473.00,283.00 474.00,285.00 C475.00,287.00 475.73,289.30 477.00,291.00 C478.27,292.70 479.77,294.37 481.60,295.20 C483.43,296.03 482.18,295.85 488.00,296.00 C493.82,296.15 511.75,296.08 516.50,296.10" fill="none" stroke="#000" stroke-width="1.6" stroke-linejoin="round"/>
<line x1="430.00" y1="263.80" x2="430.00" y2="296.60" stroke="#000" stroke-width="1.7"/>
<text transform="translate(385.17,61.74) scale(1.066,1)" font-size="8.73" font-weight="bold" fill="#000" stroke="#000" stroke-width="0.3" stroke-linejoin="round">13%</text>
<text transform="translate(493.85,61.76) scale(1.063,1)" font-size="8.76" font-weight="bold" fill="#000" stroke="#000" stroke-width="0.3" stroke-linejoin="round">78%</text>
<text transform="translate(385.06,116.36) scale(1.098,1)" font-size="8.62" font-weight="bold" fill="#000" stroke="#000" stroke-width="0.3" stroke-linejoin="round">16%</text>
<text transform="translate(493.49,116.36) scale(1.125,1)" font-size="8.62" font-weight="bold" fill="#000" stroke="#000" stroke-width="0.3" stroke-linejoin="round">64%</text>
<text transform="translate(385.34,168.36) scale(1.015,1)" font-size="8.62" font-weight="bold" fill="#000" stroke="#000" stroke-width="0.3" stroke-linejoin="round">9%</text>
<text transform="translate(493.51,168.36) scale(1.124,1)" font-size="8.62" font-weight="bold" fill="#000" stroke="#000" stroke-width="0.3" stroke-linejoin="round">91%</text>
<text transform="translate(385.35,222.29) scale(1.074,1)" font-size="8.09" font-weight="bold" fill="#000" stroke="#000" stroke-width="0.3" stroke-linejoin="round">2%</text>
<text transform="translate(493.71,222.27) scale(1.191,1)" font-size="8.06" font-weight="bold" fill="#000" stroke="#000" stroke-width="0.3" stroke-linejoin="round">49%</text>
<text transform="translate(385.35,275.29) scale(1.074,1)" font-size="8.09" font-weight="bold" fill="#000" stroke="#000" stroke-width="0.3" stroke-linejoin="round">2%</text>
<text transform="translate(493.56,275.27) scale(1.196,1)" font-size="8.09" font-weight="bold" fill="#000" stroke="#000" stroke-width="0.3" stroke-linejoin="round">55%</text>
<line x1="320.8" y1="317.4" x2="514" y2="317.4" stroke="#000" stroke-width="1.8"/>
<polygon points="513,315.3 517.8,317.4 513,319.6" fill="#000"/>
<text transform="translate(403.31,330.80) scale(0.974,1)" font-size="12.65" font-weight="bold" fill="#000">GFP</text>
</svg>
</body></html>
